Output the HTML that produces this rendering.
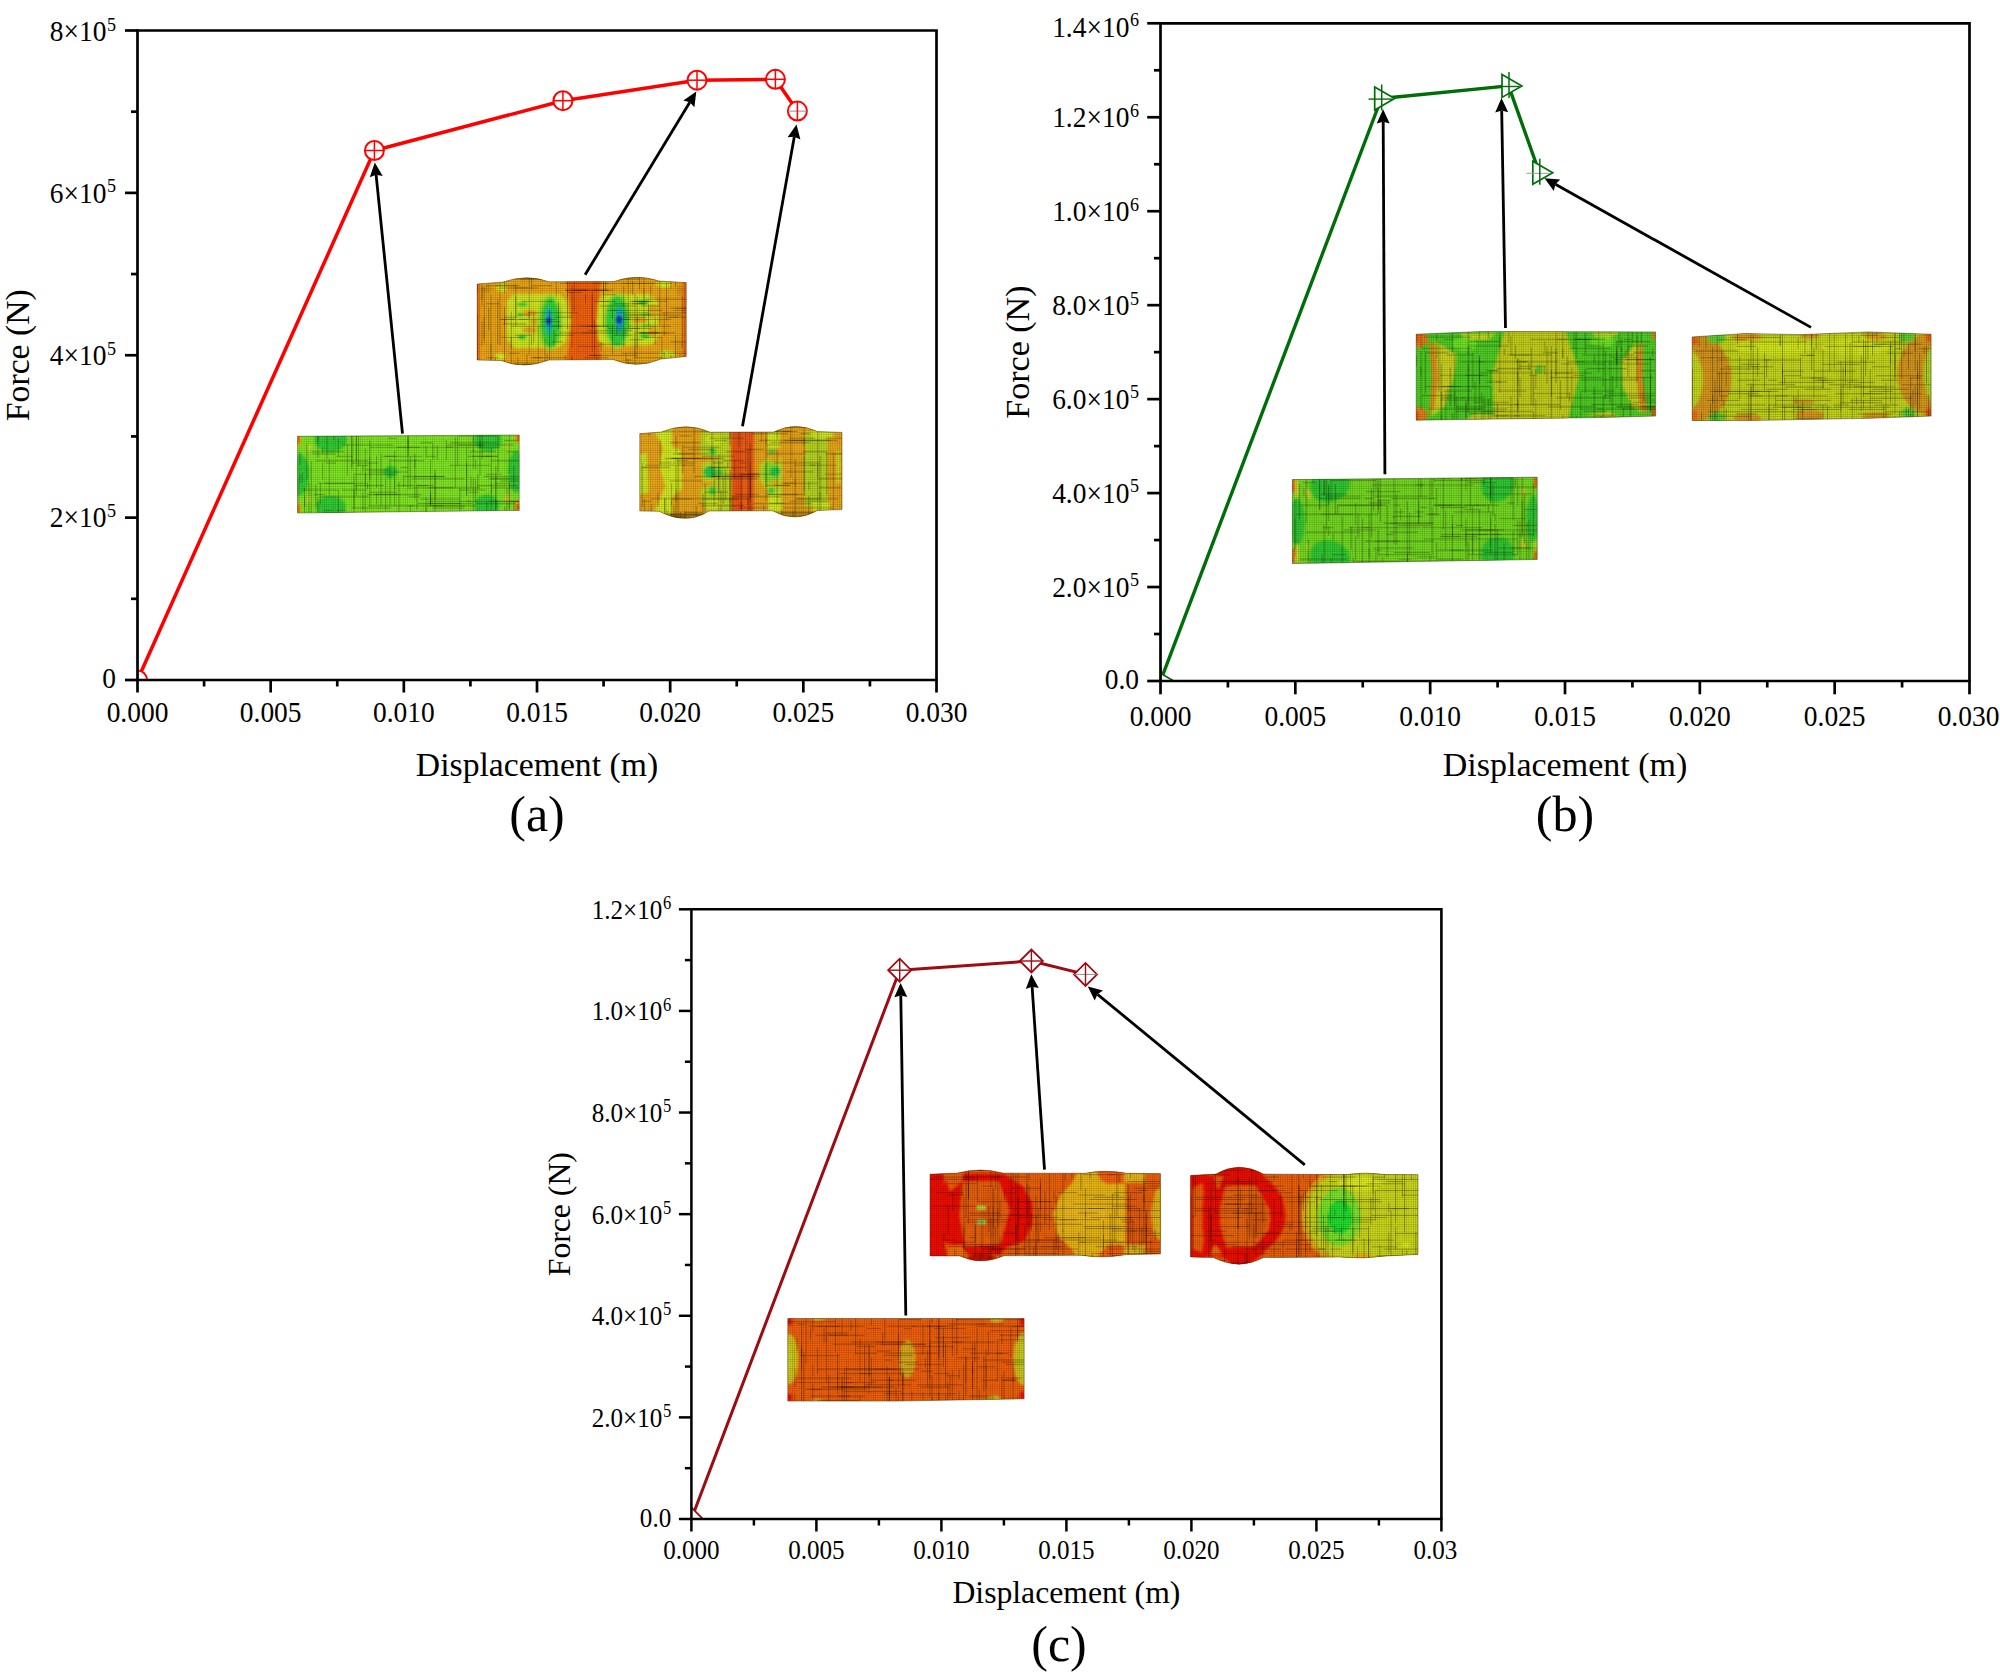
<!DOCTYPE html>
<html lang="en"><head><meta charset="utf-8"><title>Force-displacement curves</title>
<style>
html,body{margin:0;padding:0;background:#fff;}
body{width:2000px;height:1678px;overflow:hidden;}
svg{display:block;}
svg text{font-family:"Liberation Serif", "Times New Roman", serif;fill:#000;}
</style></head><body>
<svg width="2000" height="1678" viewBox="0 0 2000 1678">
<defs>
<clipPath id="ca"><rect x="137.5" y="30.5" width="799.0" height="649.5"/></clipPath>
<clipPath id="cb"><rect x="1160.5" y="23.3" width="809.0" height="657.7"/></clipPath>
<clipPath id="cc"><rect x="691.4" y="909.3" width="750.0000000000001" height="609.7"/></clipPath>
<pattern id="mesh" width="2.25" height="2.25" patternUnits="userSpaceOnUse"><path d="M0 0.3H2.25M0.3 0V2.25" stroke="#000" stroke-width="0.5" fill="none"/></pattern>
<clipPath id="fc1"><path d="M 297.6 436.3 L 519.2 435.0 L 519.2 510.4 L 297.6 513.0 Z"/></clipPath>
<filter id="fb1" x="-5%" y="-10%" width="110%" height="120%"><feGaussianBlur stdDeviation="0.8"/></filter>
<clipPath id="fc2"><path d="M 477.2 284.0 L 503.0 282.0 Q 527.0 273.6 549.0 281.8 L 614.0 281.5 Q 637.0 273.4 659.0 281.0 L 686.2 282.6 L 686.2 356.5 L 661.0 359.0 Q 637.0 369.4 613.0 359.5 L 549.0 360.0 Q 524.0 369.8 501.0 360.5 L 477.2 360.0 Z"/></clipPath>
<filter id="fb2" x="-5%" y="-10%" width="110%" height="120%"><feGaussianBlur stdDeviation="1.0"/></filter>
<clipPath id="fc3"><path d="M 639.8 433.6 L 661.4 432.0 Q 686.4 421.6 710.2 432.2 L 773.8 432.0 Q 795.1 421.4 817.6 431.6 L 842.0 432.4 L 842.0 509.6 L 817.6 510.4 Q 795.0 523.4 772.6 510.8 L 709.0 511.0 Q 686.4 525.6 659.0 511.2 L 639.8 511.0 Z"/></clipPath>
<filter id="fb3" x="-5%" y="-10%" width="110%" height="120%"><feGaussianBlur stdDeviation="1.0"/></filter>
<clipPath id="fc4"><path d="M 1292.4 479.6 L 1537.2 477.2 L 1537.2 559.5 L 1292.4 563.6 Z"/></clipPath>
<filter id="fb4" x="-5%" y="-10%" width="110%" height="120%"><feGaussianBlur stdDeviation="0.8"/></filter>
<clipPath id="fc5"><path d="M 1416.2 334.2 L 1481.0 331.5 L 1655.6 331.9 L 1655.6 416.1 L 1602.5 417.5 L 1416.2 420.2 Z"/></clipPath>
<filter id="fb5" x="-5%" y="-10%" width="110%" height="120%"><feGaussianBlur stdDeviation="1.0"/></filter>
<clipPath id="fc6"><path d="M 1692.2 336.9 L 1744.8 333.5 L 1801.5 334.6 L 1869.0 331.9 L 1931.1 334.2 L 1931.1 416.1 L 1869.0 418.3 L 1747.5 420.6 L 1692.2 420.6 Z"/></clipPath>
<filter id="fb6" x="-5%" y="-10%" width="110%" height="120%"><feGaussianBlur stdDeviation="1.0"/></filter>
<clipPath id="fc7"><path d="M 787.8 1318.5 L 1024.1 1318.5 L 1024.1 1398.8 L 896.5 1401.1 L 787.8 1401.1 Z"/></clipPath>
<filter id="fb7" x="-5%" y="-10%" width="110%" height="120%"><feGaussianBlur stdDeviation="0.8"/></filter>
<clipPath id="fc8"><path d="M 930.0 1174.2 L 957.5 1173.1 Q 980.0 1166.9 1003.0 1173.1 L 1085.0 1173.3 Q 1104.4 1169.3 1127.0 1173.3 L 1160.5 1173.6 L 1160.5 1253.9 L 1127.0 1254.6 Q 1102.0 1258.8 1081.0 1255.2 L 1004.0 1255.7 Q 981.3 1265.9 960.0 1255.9 L 930.0 1255.9 Z"/></clipPath>
<filter id="fb8" x="-5%" y="-10%" width="110%" height="120%"><feGaussianBlur stdDeviation="0.9"/></filter>
<clipPath id="fc9"><path d="M 1190.6 1175.4 L 1215.8 1174.1 Q 1238.7 1160.3 1263.6 1174.1 L 1345.0 1174.6 Q 1365.5 1171.6 1386.0 1174.6 L 1418.0 1174.7 L 1418.0 1254.4 L 1386.0 1256.0 Q 1362.0 1259.2 1340.0 1257.0 L 1263.6 1257.6 Q 1239.4 1270.8 1213.2 1257.6 L 1190.6 1257.0 Z"/></clipPath>
<filter id="fb9" x="-5%" y="-10%" width="110%" height="120%"><feGaussianBlur stdDeviation="1.0"/></filter>
</defs>
<rect width="2000" height="1678" fill="#fff"/>
<g clip-path="url(#fc1)">
<rect x="295.6" y="429.0" width="225.7" height="90.0" fill="#82ea24"/>
<g filter="url(#fb1)">
<ellipse cx="330.7" cy="439.5" rx="16.3" ry="12.4" fill="#36d034"/>
<ellipse cx="330.7" cy="507.1" rx="15.0" ry="11.1" fill="#36d034"/>
<ellipse cx="299.5" cy="474.6" rx="9.8" ry="20.8" fill="#36d034"/>
<ellipse cx="488.0" cy="439.5" rx="13.7" ry="11.7" fill="#36d034"/>
<ellipse cx="486.7" cy="505.8" rx="12.4" ry="11.1" fill="#36d034"/>
<ellipse cx="516.0" cy="472.0" rx="7.8" ry="20.8" fill="#36d034"/>
<ellipse cx="390.5" cy="472.0" rx="7.2" ry="5.9" fill="#36d034"/>
<rect x="295.6" y="434.3" width="5.5" height="11.7" fill="#e8c018"/>
<rect x="295.6" y="501.9" width="5.5" height="11.7" fill="#e8c018"/>
<rect x="514.7" y="433.0" width="5.2" height="10.4" fill="#e8c018"/>
<rect x="514.7" y="501.3" width="5.2" height="10.4" fill="#f0a010"/>
<ellipse cx="309.3" cy="448.0" rx="2.3" ry="3.9" fill="#c8e030"/>
<ellipse cx="309.3" cy="499.3" rx="2.3" ry="3.9" fill="#c8e030"/>
<ellipse cx="507.5" cy="446.0" rx="2.3" ry="3.9" fill="#b0e030"/>
<ellipse cx="507.5" cy="498.0" rx="2.9" ry="4.6" fill="#d8e030"/>
<rect x="296.3" y="435.0" width="2.9" height="7.8" fill="#f04010"/>
<rect x="296.3" y="505.8" width="2.9" height="7.2" fill="#f04010"/>
<rect x="516.9" y="434.3" width="2.9" height="6.5" fill="#f04010"/>
<rect x="516.9" y="504.5" width="2.9" height="5.9" fill="#f04010"/>
</g>
<rect x="295.6" y="429.0" width="225.7" height="90.0" fill="url(#mesh)" opacity="0.3"/>
<path d="M426.1 496.9V519.0M430.6 459.6V506.7M351.9 435.6V466.1M477.9 474.2V489.1M426.1 446.3V456.6M495.9 476.1V510.6M410.4 505.8V519.0M473.4 477.5V513.4M448.6 424.6V432.3M365.4 472.9V516.3M390.1 458.6V505.0M446.4 440.0V460.1M297.9 478.6V506.5M376.6 455.6V488.0M320.4 482.7V503.8M363.1 465.1V472.5M459.9 487.9V513.1M381.1 453.7V505.7M493.6 419.0V435.1M311.4 461.3V514.3M410.4 456.7V489.9M354.1 489.0V508.0M322.6 447.0V453.7M414.9 487.2V498.8M367.6 482.6V489.1M430.6 490.7V505.2M457.6 435.9V466.3M507.1 488.2V514.3M408.1 429.4V455.6M358.6 419.0V466.5M466.6 446.3V494.8M356.4 435.8V489.6M471.1 476.7V487.5M338.4 438.1V456.5M473.4 448.6V468.8M318.1 425.6V441.7M480.1 440.8V475.7M403.6 474.9V487.1M466.6 462.5V496.1M408.1 435.4V448.8M363.1 492.6V510.5M351.9 433.2V469.4M455.4 436.6V488.3M435.1 473.3V499.5M327.1 428.8V459.4M369.9 440.4V480.2M369.9 456.8V506.3M437.4 445.4V459.8M504.9 506.9V519.0M435.1 469.3V516.2M473.4 425.6V441.8M356.4 486.4V495.7M414.9 459.1V468.0M347.4 444.3V475.8M333.9 427.2V439.9M426.1 507.2V519.0M495.9 465.9V517.4M466.6 422.1V429.0M399.1 482.0V519.0M302.4 472.8V482.4M315.9 484.7V506.0M318.1 425.7V457.9M509.4 423.0V473.9M509.4 482.3V519.0M394.6 450.6V489.5M318.1 497.4V519.0M304.6 496.7V519.0M475.6 478.6V502.8M300.1 473.8V483.6M480.1 429.4V447.7M417.1 484.5V509.1M509.4 481.4V509.4M430.6 494.4V504.4M513.9 465.3V486.2M322.6 462.2V479.3M498.1 429.1V472.5M486.9 501.8V519.0M300.1 452.1V464.9M473.4 437.2V451.3M394.6 478.4V505.6M365.4 448.4V486.3M354.1 476.0V519.0M513.9 501.2V519.0M408.1 438.7V488.9M356.4 431.2V461.0M309.1 483.0V519.0M376.6 492.9V504.3M432.9 443.7V460.0M414.9 453.4V484.3M491.4 447.3V493.6M475.6 459.7V469.3M306.9 444.0V479.1M491.4 482.7V516.1M385.6 477.4V510.5M482.4 431.2V459.0M304.6 488.2V507.0M338.4 490.7V519.0M329.4 459.1V495.4M500.4 481.0H519.2M471.9 456.3H490.6M457.4 429.3H489.8M335.5 433.8H354.9M411.8 478.8H464.6M427.6 501.3H471.0M477.2 485.5H517.8M316.0 460.8H368.1M325.0 483.3H353.5M377.3 429.3H411.4M466.2 501.3H518.9M366.7 494.5H421.2M450.4 442.8H496.8M342.7 445.0H393.2M504.4 440.5H519.2M353.0 474.3H394.5M371.3 431.5H381.4M369.9 492.3H396.8M400.7 467.5H408.1M388.3 438.3H396.1M368.5 505.8H413.4M397.1 447.3H452.6M475.3 503.5H515.4M420.1 499.0H460.1M390.6 460.8H424.2M432.8 508.0H464.6M351.8 508.0H391.0M341.6 517.0H389.7M408.5 505.8H442.8M384.6 456.3H396.2M425.7 429.3H433.0M406.8 433.8H432.6M323.4 510.3H334.0M311.5 451.8H344.1M492.4 487.8H519.2M354.5 485.5H383.9M369.4 447.3H420.0M408.7 496.8H420.0M428.3 487.8H480.1M446.2 447.3H500.4M338.6 433.8H355.9M365.7 469.8H389.3M403.1 517.0H433.8M323.5 512.5H354.8M449.5 465.3H490.1M302.5 490.0H339.8M427.9 503.5H460.5M432.7 505.8H464.9M427.0 505.8H475.4M491.2 460.8H519.2M488.6 478.8H510.2M486.1 474.3H501.7M485.4 456.3H498.0M325.6 463.0H336.0M318.1 483.3H365.2M412.5 487.8H453.4M382.8 456.3H422.7M317.9 431.5H352.0M490.5 478.8H519.2M446.7 445.0H484.1M404.0 476.5H443.9M467.5 456.3H497.3M305.5 431.5H338.7M489.1 501.3H518.9M336.6 456.3H352.7M507.2 451.8H519.2M420.3 442.8H432.9M314.0 494.5H324.8M396.4 485.5H427.8M342.0 490.0H366.5M476.2 433.8H491.2M373.7 494.5H397.9M425.6 456.3H436.3M366.1 429.3H376.3M418.1 485.5H433.6M505.5 512.5H519.2M356.7 465.3H368.5M470.0 451.8H496.0M483.8 476.5H519.2M459.5 490.0H485.6M312.5 454.0H335.4M318.9 496.8H368.8M308.0 517.0H327.5M369.1 472.0H407.7M336.1 510.3H345.9M509.2 501.3H519.2M458.8 445.0H513.2M321.8 431.5H333.2M351.9 463.0H377.7M458.7 436.0H496.7M318.4 429.3H336.8M414.0 476.5H445.1M417.8 503.5H472.9M468.9 492.3H478.7M439.0 514.8H492.2M494.4 483.3H508.3" stroke="#000" stroke-width="0.7" opacity="0.38" fill="none"/>
</g>
<path d="M 297.6 436.3 L 519.2 435.0 L 519.2 510.4 L 297.6 513.0 Z" fill="none" stroke="#1a1a00" stroke-width="0.8" opacity="0.5"/>
<g clip-path="url(#fc2)">
<rect x="475.2" y="267.4" width="213.0" height="108.4" fill="#f0aa18"/>
<g filter="url(#fb2)">
<polygon points="507.0,301.0 513.0,294.0 560.0,294.0 566.0,300.0 570.0,322.0 565.0,343.0 558.0,348.0 514.0,348.0 507.0,340.0" fill="#d6ec20"/>
<polygon points="599.0,300.0 604.0,294.0 650.0,294.0 658.0,302.0 659.0,336.0 652.0,345.0 606.0,346.0 598.0,340.0 595.0,321.0" fill="#d6ec20"/>
<polygon points="563.6,270.0 602.8,270.0 598.5,300.0 596.8,321.0 598.5,340.0 602.8,372.0 564.8,372.0 570.0,340.0 572.0,321.0 570.0,300.0" fill="#f8640f"/>
<ellipse cx="530.0" cy="313.2" rx="7.5" ry="3.0" fill="#f0a81c"/>
<ellipse cx="530.0" cy="330.0" rx="7.5" ry="3.0" fill="#f0a81c"/>
<ellipse cx="535.0" cy="321.6" rx="5.0" ry="3.0" fill="#eab01c"/>
<ellipse cx="640.0" cy="320.4" rx="8.0" ry="2.6" fill="#f0a81c"/>
<ellipse cx="653.0" cy="311.0" rx="5.0" ry="7.0" fill="#e8b01c"/>
<ellipse cx="653.0" cy="331.0" rx="5.0" ry="6.0" fill="#e8b01c"/>
<ellipse cx="522.2" cy="304.2" rx="5.4" ry="2.0" fill="#34d63a"/>
<ellipse cx="519.8" cy="314.4" rx="3.0" ry="2.4" fill="#60e030"/>
<ellipse cx="522.2" cy="337.2" rx="4.4" ry="2.4" fill="#34d63a"/>
<ellipse cx="643.0" cy="302.4" rx="5.4" ry="2.4" fill="#34d63a"/>
<ellipse cx="646.0" cy="314.4" rx="5.0" ry="1.5" fill="#70e030"/>
<ellipse cx="647.0" cy="325.8" rx="5.0" ry="1.5" fill="#70e030"/>
<ellipse cx="644.8" cy="336.0" rx="5.0" ry="2.4" fill="#34d63a"/>
<ellipse cx="550.0" cy="322.5" rx="13.0" ry="28.0" fill="#a4e42a"/>
<ellipse cx="617.5" cy="321.0" rx="14.0" ry="28.0" fill="#a4e42a"/>
<ellipse cx="550.4" cy="322.8" rx="9.6" ry="24.5" fill="#34d63a"/>
<ellipse cx="617.2" cy="321.0" rx="11.0" ry="24.5" fill="#34d63a"/>
<ellipse cx="548.8" cy="321.0" rx="3.3" ry="13.8" fill="#18b8c8"/>
<ellipse cx="619.6" cy="319.4" rx="3.8" ry="13.2" fill="#18b8c8"/>
<ellipse cx="548.6" cy="321.0" rx="2.7" ry="3.7" fill="#1838b8"/>
<ellipse cx="619.0" cy="319.8" rx="3.4" ry="4.2" fill="#1838b8"/>
<ellipse cx="501.8" cy="288.0" rx="5.5" ry="3.8" fill="#dcf020"/>
<ellipse cx="500.0" cy="356.6" rx="5.5" ry="3.2" fill="#dcf020"/>
<ellipse cx="664.0" cy="284.6" rx="8.0" ry="3.2" fill="#dcf020"/>
<ellipse cx="667.0" cy="354.0" rx="8.0" ry="3.8" fill="#cfe820"/>
<ellipse cx="487.0" cy="289.0" rx="5.0" ry="4.0" fill="#d89818"/>
<ellipse cx="680.0" cy="290.0" rx="3.0" ry="6.0" fill="#d89818"/>
<ellipse cx="680.0" cy="345.0" rx="3.0" ry="8.0" fill="#e0a018"/>
<rect x="475.0" y="280.0" width="4.4" height="84.0" fill="#f86010"/>
<rect x="682.6" y="280.0" width="5.0" height="80.0" fill="#f06812"/>
<ellipse cx="527.0" cy="276.5" rx="19.0" ry="2.2" fill="#c89014"/>
<ellipse cx="637.0" cy="276.3" rx="19.0" ry="2.2" fill="#c89014"/>
<ellipse cx="524.0" cy="366.0" rx="21.0" ry="3.2" fill="#b88412"/>
<ellipse cx="637.0" cy="365.6" rx="21.0" ry="3.2" fill="#b88412"/>
</g>
<rect x="475.2" y="267.4" width="213.0" height="108.4" fill="url(#mesh)" opacity="0.3"/>
<path d="M515.8 283.7V325.9M605.8 277.4V290.5M664.2 352.6V375.8M500.0 282.5V345.2M567.5 363.2V375.8M635.0 331.7V375.8M680.0 353.2V375.8M482.0 321.3V345.7M531.5 277.0V289.6M628.2 359.1V375.8M639.5 264.0V289.3M572.0 285.4V347.9M565.2 355.0V375.8M664.2 313.3V335.8M554.0 329.8V346.7M491.0 294.5V353.7M596.8 357.7V375.8M626.0 353.0V375.8M529.2 290.7V318.8M644.0 260.1V300.1M637.2 316.3V347.9M671.0 354.9V375.8M502.2 365.4V375.8M601.2 342.1V351.5M533.8 312.9V342.6M504.5 307.2V324.6M484.2 316.7V343.3M572.0 356.0V375.8M603.5 261.4V299.0M662.0 337.5V375.8M504.5 263.0V293.3M518.0 357.2V375.8M511.2 311.4V348.4M644.0 288.2V334.6M612.5 309.0V318.9M682.2 295.7V348.0M650.8 285.5V298.5M529.2 311.6V355.1M574.2 267.9V311.1M648.5 304.5V326.4M488.8 265.7V282.9M671.0 270.2V289.0M549.5 310.2V320.2M482.0 287.4V299.1M612.5 324.4V354.2M511.2 337.1V375.8M529.2 261.5V289.9M655.2 261.0V279.0M617.0 326.2V335.1M675.5 335.2V368.7M547.2 353.8V366.4M495.5 358.3V375.8M527.0 353.8V375.8M493.2 260.6V276.0M556.2 262.0V296.7M484.2 287.4V338.8M538.2 325.9V375.8M666.5 282.7V320.3M515.8 295.9V317.2M675.5 258.4V286.8M659.8 269.0V325.0M655.2 317.2V344.5M623.8 285.9V307.2M628.2 274.6V330.2M623.8 311.1V346.7M515.8 363.0V375.8M592.2 294.6V352.3M497.8 299.3V344.0M531.5 334.0V345.1M585.5 294.1V303.3M628.2 362.5V375.8M637.2 296.6V358.9M477.5 314.5V365.9M482.0 269.7V305.6M491.0 344.8V375.8M504.5 319.2V375.8M549.5 312.1V373.5M594.5 319.7V356.8M635.0 293.4V356.7M491.0 355.1V375.8M664.2 360.7V375.8M477.5 283.3V292.6M567.5 289.7V297.2M567.5 269.6V329.2M572.0 357.0V372.4M558.5 302.4V329.3M592.2 290.7V328.6M655.2 361.4V375.8M488.8 307.7V330.3M632.8 281.0V294.6M545.0 338.9V375.8M603.5 262.7V327.4M499.8 287.9H528.0M577.6 290.2H586.8M518.2 314.9H530.3M593.2 362.2H620.4M584.4 357.7H608.6M638.0 332.9H675.0M518.7 319.4H556.5M500.2 278.9H545.2M520.4 278.9H548.3M530.4 357.7H542.2M593.7 290.2H613.7M593.9 301.4H609.1M624.1 314.9H650.9M512.0 368.9H536.8M587.9 330.7H632.0M631.9 303.7H647.6M522.1 301.4H552.6M535.1 364.4H543.3M598.8 301.4H615.9M636.0 332.9H659.2M592.7 283.4H609.3M551.7 326.2H602.3M486.3 285.7H520.3M606.8 310.4H617.8M578.5 364.4H626.9M503.1 323.9H526.3M624.8 359.9H631.4M565.0 290.2H608.4M573.4 290.2H587.0M509.1 353.2H519.8M501.3 319.4H515.1M493.9 368.9H523.1M613.7 303.7H644.6M616.0 312.7H648.7M645.8 299.2H686.2M487.2 357.7H498.9M479.2 276.7H509.7M601.8 326.2H623.3M629.8 328.4H640.1M529.7 326.2H562.0M588.7 355.4H601.5M661.5 312.7H686.2M614.5 269.9H645.4M565.4 290.2H609.1M567.1 267.7H590.9M548.9 276.7H556.2M554.6 335.2H573.9M589.1 355.4H636.8M676.1 308.2H686.2M639.7 332.9H660.3M567.7 292.4H581.4M674.7 269.9H686.2M628.0 326.2H670.7M533.0 357.7H567.1M623.0 317.2H646.0M588.2 278.9H639.3M514.7 287.9H538.8M638.5 276.7H680.3M623.9 319.4H630.4M581.8 332.9H628.7M514.9 335.2H530.7M539.0 371.2H584.7M500.7 337.4H522.9M604.2 283.4H654.4M511.1 326.2H529.1M632.7 301.4H667.1M562.7 364.4H604.1M504.3 317.2H516.5M670.3 308.2H686.2M547.8 364.4H586.5M599.6 305.9H636.6M555.3 364.4H603.4M603.6 294.7H615.7M527.6 312.7H578.0M522.5 364.4H530.8M643.3 337.4H662.8M560.4 283.4H602.0M624.8 267.7H631.7M633.7 357.7H662.2M559.3 332.9H596.6M629.5 339.7H643.5M486.1 303.7H499.4M627.7 274.4H654.1M577.9 346.4H600.8M531.8 285.7H552.6M486.3 366.7H495.2M482.1 364.4H502.2M552.3 341.9H563.1M579.8 326.2H609.0M499.5 319.4H528.5M554.9 317.2H572.4M496.0 285.7H515.6M621.7 353.2H665.7M542.0 321.7H560.3M621.0 319.4H671.4M629.7 314.9H681.0M641.3 305.9H660.2M669.5 317.2H686.2M586.6 326.2H600.6M496.7 373.4H510.0M632.6 301.4H649.4M607.5 328.4H651.3M639.8 332.9H668.3M670.6 341.9H686.2M667.3 317.2H678.6M613.5 310.4H662.8M598.5 344.2H624.8M673.5 310.4H686.2M667.9 353.2H686.2M629.2 301.4H652.5M622.0 283.4H672.2M652.5 368.9H663.5M621.8 269.9H643.8M648.0 371.2H686.2M613.3 335.2H632.3" stroke="#000" stroke-width="0.7" opacity="0.38" fill="none"/>
</g>
<path d="M 477.2 284.0 L 503.0 282.0 Q 527.0 273.6 549.0 281.8 L 614.0 281.5 Q 637.0 273.4 659.0 281.0 L 686.2 282.6 L 686.2 356.5 L 661.0 359.0 Q 637.0 369.4 613.0 359.5 L 549.0 360.0 Q 524.0 369.8 501.0 360.5 L 477.2 360.0 Z" fill="none" stroke="#1a1a00" stroke-width="0.8" opacity="0.5"/>
<g clip-path="url(#fc3)">
<rect x="637.8" y="415.4" width="206.2" height="116.2" fill="#eca81a"/>
<g filter="url(#fb3)">
<polygon points="652.6,428.0 672.0,428.0 672.0,447.0 680.8,450.0 682.0,489.0 672.0,497.0 672.0,516.0 652.6,516.0 665.2,486.0 659.0,464.0 663.3,448.0" fill="#d8ee20"/>
<polygon points="639.0,455.0 647.0,452.0 649.0,492.0 639.0,495.0" fill="#cfe820"/>
<ellipse cx="654.0" cy="456.0" rx="5.0" ry="7.0" fill="#eea41a"/>
<ellipse cx="656.0" cy="492.0" rx="5.0" ry="7.0" fill="#eea41a"/>
<polygon points="701.0,432.0 729.0,432.0 731.0,511.0 705.0,511.0 700.8,495.0 702.0,471.0 700.0,450.0" fill="#bfdc24"/>
<polygon points="694.6,455.0 722.0,459.0 694.6,464.0" fill="#eca81a"/>
<polygon points="694.6,480.0 720.0,483.0 694.6,489.0" fill="#eca81a"/>
<ellipse cx="710.0" cy="472.0" rx="6.5" ry="5.6" fill="#22d04c"/>
<ellipse cx="719.6" cy="472.0" rx="4.0" ry="3.0" fill="#4cd83c"/>
<ellipse cx="712.7" cy="451.5" rx="3.4" ry="4.0" fill="#40d440"/>
<ellipse cx="712.3" cy="490.7" rx="3.4" ry="4.2" fill="#40d440"/>
<ellipse cx="714.0" cy="440.0" rx="9.0" ry="5.0" fill="#d4ea20"/>
<ellipse cx="714.0" cy="505.0" rx="9.0" ry="5.0" fill="#d4ea20"/>
<rect x="731.5" y="425.0" width="22.3" height="95.0" fill="#ee5416"/>
<rect x="743.0" y="425.0" width="5.0" height="95.0" fill="#f86414"/>
<polygon points="760.0,465.0 768.0,458.0 782.0,458.0 782.0,511.0 768.0,511.0 768.0,492.0 760.0,480.0" fill="#c4e024"/>
<polygon points="767.5,432.0 780.0,432.0 780.0,448.0 767.5,448.0" fill="#d8ee20"/>
<polygon points="768.7,492.0 780.0,492.0 780.0,511.0 768.7,511.0" fill="#d8ee20"/>
<ellipse cx="771.0" cy="472.0" rx="9.0" ry="12.0" fill="#8ce02c"/>
<ellipse cx="775.0" cy="471.3" rx="5.6" ry="4.4" fill="#22d04c"/>
<ellipse cx="771.9" cy="451.3" rx="3.2" ry="2.3" fill="#30dc48"/>
<ellipse cx="771.3" cy="490.7" rx="3.2" ry="3.2" fill="#40d440"/>
<ellipse cx="775.0" cy="460.5" rx="6.0" ry="2.2" fill="#eeb01c"/>
<ellipse cx="775.0" cy="483.0" rx="6.0" ry="2.2" fill="#eeb01c"/>
<polygon points="805.0,432.5 827.6,432.5 827.6,507.6 805.0,507.6 803.0,470.0" fill="#b9d822"/>
<polygon points="811.0,431.0 833.0,431.0 833.0,438.0 811.0,438.0" fill="#d4ea20"/>
<polygon points="812.6,503.0 830.0,503.0 830.0,511.0 812.6,511.0" fill="#d4ea20"/>
<polygon points="792.6,446.0 806.0,446.0 806.0,453.0 792.6,453.0" fill="#f4ac1c"/>
<rect x="836.4" y="451.0" width="3.6" height="32.0" fill="#cfe820"/>
<ellipse cx="686.4" cy="425.6" rx="20.0" ry="2.2" fill="#c48c14"/>
<ellipse cx="795.1" cy="425.4" rx="20.0" ry="2.2" fill="#c48c14"/>
<ellipse cx="686.0" cy="517.0" rx="24.0" ry="5.2" fill="#c08a14"/>
<ellipse cx="795.0" cy="515.4" rx="23.0" ry="5.0" fill="#c08a14"/>
</g>
<rect x="637.8" y="415.4" width="206.2" height="116.2" fill="url(#mesh)" opacity="0.3"/>
<path d="M804.3 424.8V445.7M718.8 461.1V523.1M793.1 511.0V528.9M826.8 510.6V531.6M732.3 517.7V531.6M766.1 438.2V487.1M660.3 440.4V466.1M781.8 509.8V531.6M833.6 454.9V514.9M730.1 470.0V519.4M673.8 505.9V531.6M721.1 521.0V531.6M658.1 492.5V506.4M732.3 494.8V531.6M730.1 406.1V445.6M725.6 469.9V500.7M835.8 418.2V426.3M820.1 492.2V531.6M673.8 412.8V424.7M730.1 405.8V437.9M739.1 429.0V447.3M826.8 450.5V494.6M741.3 473.9V508.9M727.8 461.9V468.5M748.1 449.5V505.2M671.6 483.0V504.5M795.3 479.2V531.2M685.1 511.1V531.6M777.3 409.3V420.9M813.3 513.5V531.6M718.8 454.4V492.7M714.3 460.3V506.0M777.3 450.5V504.8M730.1 498.7V525.4M669.3 516.7V531.6M730.1 477.7V501.9M817.8 425.4V477.6M741.3 502.0V531.6M734.6 512.9V531.6M808.8 481.7V490.0M820.1 509.6V516.4M777.3 416.1V439.3M806.6 414.5V428.0M694.1 428.5V473.3M658.1 513.0V531.6M804.3 455.9V495.6M745.8 406.2V472.0M757.1 408.1V419.8M678.3 458.5V514.2M808.8 496.1V531.6M705.3 483.9V511.2M664.8 498.3V531.6M727.8 517.9V531.6M644.6 499.0V531.6M723.3 477.3V504.1M676.1 488.9V501.2M750.3 463.0V497.7M696.3 506.2V531.6M676.1 435.4V452.5M790.8 420.5V477.5M795.3 459.3V485.9M707.6 406.2V413.7M682.8 444.6V473.6M712.1 433.0V478.1M642.3 463.0V507.2M804.3 438.2V490.4M703.1 494.0V518.2M752.6 519.1V531.6M671.6 500.8V518.8M750.3 443.9V501.5M651.3 504.4V531.6M676.1 465.4V521.7M750.3 477.0V530.9M817.8 463.3V518.9M763.8 505.0V531.6M721.1 490.3V531.6M820.1 455.9V499.4M748.1 498.5V531.6M754.8 517.5V531.6M766.1 423.8V443.7M649.1 417.4V435.3M734.6 460.8V478.0M761.6 420.7V441.8M678.3 515.4V531.6M680.6 512.0V531.6M664.8 497.7V529.1M667.1 509.9V531.6M748.1 405.8V418.0M766.1 462.8V501.0M674.4 458.4H724.1M694.2 476.4H720.6M685.2 512.4H702.5M672.3 458.4H699.8M818.3 415.7H842.0M677.2 519.2H703.3M688.2 449.4H713.6M819.2 487.7H840.8M677.7 431.4H702.9M745.0 449.4H763.5M783.6 507.9H832.8M702.9 498.9H737.9M645.3 465.2H685.1M791.4 440.4H837.5M803.1 417.9H821.9M739.4 474.2H759.6M723.0 429.2H751.8M793.8 465.2H815.5M754.3 422.4H784.0M781.7 483.2H817.6M726.1 451.7H745.6M722.8 460.7H743.6M714.3 440.4H726.8M665.1 458.4H678.9M707.3 467.4H746.7M702.3 456.2H734.6M670.2 458.4H718.4M742.7 474.2H774.7M675.0 460.7H687.7M766.1 485.4H790.4M825.3 438.2H842.0M671.5 498.9H701.2M770.0 442.7H797.8M642.1 431.4H676.2M670.2 442.7H700.7M825.3 453.9H842.0M778.8 523.7H792.4M673.2 453.9H708.8M661.4 426.9H670.4M815.3 417.9H842.0M768.0 494.4H798.1M764.4 431.4H797.6M643.4 516.9H685.6M753.7 503.4H784.5M712.9 476.4H754.6M643.7 467.4H669.8M812.2 426.9H842.0M669.4 514.7H707.8M701.4 505.7H744.4M680.2 521.4H720.0M679.4 435.9H691.6M701.7 431.4H748.8M687.4 528.2H728.6M659.2 420.2H675.3M785.5 471.9H813.5M753.2 514.7H770.8M739.9 462.9H746.0M796.7 442.7H809.5M677.6 453.9H694.5M764.9 431.4H789.2M744.6 528.2H753.4M766.6 494.4H804.5M722.2 417.9H745.7M803.0 451.7H825.8M682.6 465.2H693.7M712.8 462.9H723.3M815.3 514.7H842.0M778.3 417.9H822.3M732.7 496.7H780.8M716.2 478.7H757.1M774.7 485.4H789.5M789.3 501.2H827.5M712.9 476.4H750.2M817.5 422.4H842.0M705.2 492.2H728.0M697.9 503.4H717.7M711.1 467.4H726.3M784.6 440.4H830.9M650.8 498.9H692.3M682.8 447.2H719.3M785.1 426.9H815.3M739.0 507.9H767.7M766.6 453.9H806.2M796.7 498.9H838.0M797.5 417.9H832.3M795.3 498.9H819.2M759.0 440.4H804.6M641.0 467.4H647.3M818.2 478.7H842.0M800.6 433.7H809.6M766.7 444.9H780.6M701.1 498.9H749.9M785.0 417.9H832.0M774.5 462.9H820.1M831.7 453.9H842.0M665.3 516.9H690.4M670.7 514.7H711.1M643.9 521.4H681.3M821.3 525.9H842.0M809.5 465.2H836.8M679.1 417.9H724.2M782.8 431.4H792.4M783.6 483.2H793.9M673.1 462.9H693.8M669.6 480.9H702.3M819.2 512.4H825.3M769.1 503.4H811.3M741.2 519.2H787.2M819.4 512.4H832.9M696.3 424.7H725.0M789.2 438.2H814.9M824.7 474.2H842.0M735.2 494.4H758.9M781.5 512.4H820.2M751.3 433.7H787.9M711.2 476.4H760.0M814.8 514.7H829.6M709.4 438.2H744.5M828.7 417.9H842.0M642.0 501.2H651.9M658.8 462.9H671.6M712.1 474.2H758.9" stroke="#000" stroke-width="0.7" opacity="0.38" fill="none"/>
</g>
<path d="M 639.8 433.6 L 661.4 432.0 Q 686.4 421.6 710.2 432.2 L 773.8 432.0 Q 795.1 421.4 817.6 431.6 L 842.0 432.4 L 842.0 509.6 L 817.6 510.4 Q 795.0 523.4 772.6 510.8 L 709.0 511.0 Q 686.4 525.6 659.0 511.2 L 639.8 511.0 Z" fill="none" stroke="#1a1a00" stroke-width="0.8" opacity="0.5"/>
<g clip-path="url(#fc4)">
<rect x="1290.4" y="471.2" width="248.8" height="98.4" fill="#76dc22"/>
<g filter="url(#fb4)">
<ellipse cx="1330.0" cy="485.3" rx="20.3" ry="16.2" fill="#30cc30" transform="rotate(-18 1330.0 485.3)"/>
<ellipse cx="1330.0" cy="556.8" rx="20.3" ry="16.2" fill="#30cc30" transform="rotate(18 1330.0 556.8)"/>
<ellipse cx="1296.9" cy="521.7" rx="7.8" ry="23.0" fill="#30cc30"/>
<ellipse cx="1497.4" cy="483.9" rx="16.2" ry="18.2" fill="#30cc30" transform="rotate(20 1497.4 483.9)"/>
<ellipse cx="1497.4" cy="553.4" rx="16.9" ry="16.2" fill="#30cc30" transform="rotate(-18 1497.4 553.4)"/>
<ellipse cx="1533.1" cy="519.0" rx="7.0" ry="23.0" fill="#30cc30"/>
<rect x="1291.5" y="477.8" width="3.8" height="14.9" fill="#f06010"/>
<rect x="1291.5" y="548.7" width="3.8" height="14.9" fill="#f06010"/>
<rect x="1534.1" y="476.5" width="3.8" height="10.8" fill="#f06010"/>
<rect x="1534.1" y="550.1" width="3.8" height="9.5" fill="#f06010"/>
<rect x="1295.3" y="479.9" width="3.4" height="17.6" fill="#d8e030"/>
<rect x="1295.3" y="544.7" width="3.4" height="17.6" fill="#d8e030"/>
<ellipse cx="1308.4" cy="494.0" rx="1.9" ry="6.1" fill="#d8d030" transform="rotate(-20 1308.4 494.0)"/>
<ellipse cx="1307.7" cy="547.4" rx="1.4" ry="4.1" fill="#c0d830"/>
<ellipse cx="1523.0" cy="492.0" rx="1.9" ry="5.4" fill="#c0d030"/>
<ellipse cx="1523.0" cy="544.7" rx="1.9" ry="5.4" fill="#d0d030"/>
<rect x="1534.5" y="540.6" width="2.0" height="10.8" fill="#d8e030"/>
</g>
<rect x="1290.4" y="471.2" width="248.8" height="98.4" fill="url(#mesh)" opacity="0.3"/>
<path d="M1409.7 512.3V555.5M1324.2 478.5V496.5M1299.5 483.3V519.4M1319.7 476.6V509.8M1378.2 529.4V555.5M1407.5 536.5V569.6M1394.0 468.4V519.0M1470.5 476.8V509.9M1461.5 470.5V527.3M1322.0 554.0V569.6M1376.0 464.6V491.1M1430.0 508.0V524.1M1328.7 486.6V505.7M1306.2 465.4V522.4M1488.5 504.1V512.1M1497.5 529.5V569.6M1524.5 493.5V543.5M1472.7 505.8V554.3M1335.5 484.1V514.3M1520.0 533.6V569.6M1468.2 541.8V569.6M1304.0 488.5V495.0M1295.0 518.2V556.3M1452.5 514.6V569.6M1394.0 516.6V544.1M1396.2 494.6V545.1M1466.0 531.7V569.6M1511.0 465.9V504.9M1326.5 475.2V530.7M1504.2 543.4V569.6M1376.0 551.8V561.1M1313.0 461.8V482.3M1490.7 512.7V554.7M1533.5 557.5V566.7M1430.0 555.7V569.6M1310.7 559.2V569.6M1517.7 520.2V555.1M1432.2 467.6V499.6M1407.5 500.8V535.8M1421.0 468.3V487.7M1328.7 525.8V535.8M1418.7 500.1V524.4M1418.7 469.4V523.3M1513.2 474.3V519.8M1436.7 542.4V561.3M1493.0 484.2V516.1M1436.7 487.9V515.8M1331.0 558.5V569.6M1328.7 484.0V521.6M1443.5 472.3V529.6M1434.5 475.5V481.7M1407.5 553.5V569.6M1522.2 500.8V537.3M1472.7 534.2V569.6M1421.0 482.8V497.1M1333.2 533.6V539.8M1380.5 462.5V505.5M1466.0 473.9V489.8M1297.2 468.7V479.8M1445.7 510.5V550.3M1380.5 500.8V521.7M1526.7 523.3V565.3M1490.7 467.7V502.4M1382.7 557.4V569.6M1373.7 462.8V511.0M1324.2 480.3V495.1M1342.2 516.5V568.0M1517.7 476.7V505.4M1369.2 548.5V569.6M1362.5 518.7V569.6M1378.2 487.1V514.5M1522.2 477.2V533.5M1430.0 478.7V508.6M1432.2 507.6V555.5M1490.7 518.0V547.6M1400.7 508.4V520.4M1490.7 488.6V504.8M1533.5 483.3V536.7M1515.5 478.3V486.5M1355.7 502.9V525.2M1369.2 514.2V557.4M1319.7 461.6V510.2M1378.2 463.1V510.1M1351.2 526.5V549.7M1495.2 523.8V569.6M1418.7 510.1V516.4M1461.5 465.8V480.8M1355.7 535.8V559.8M1484.0 462.1V486.5M1308.5 539.6V569.6M1490.7 468.3V494.7M1337.7 504.5V513.8M1358.0 513.4V538.4M1522.2 466.3V473.3M1513.2 531.3V555.3M1479.5 510.0V566.1M1387.2 505.3V557.2M1495.2 513.6V521.2M1295.0 499.6V549.5M1452.5 524.0V536.0M1520.0 520.6V538.2M1466.0 518.0V547.0M1490.7 466.4V498.1M1529.0 519.3V561.0M1353.5 557.9V569.6M1324.2 524.8V569.6M1331.0 481.6V501.1M1371.5 488.6V537.4M1373.1 548.0H1413.2M1455.8 525.5H1463.3M1391.4 498.5H1436.1M1386.4 534.5H1393.1M1338.6 505.2H1386.4M1392.6 516.5H1421.8M1498.5 518.7H1526.1M1441.3 536.7H1476.9M1378.5 554.7H1431.0M1471.4 539.0H1516.8M1317.5 566.0H1338.8M1464.2 505.2H1486.1M1417.1 557.0H1434.9M1436.8 471.5H1497.3M1365.0 541.2H1400.2M1368.9 503.0H1390.1M1418.4 473.7H1447.3M1423.6 539.0H1472.6M1434.7 505.2H1453.5M1497.8 548.0H1530.6M1425.9 514.2H1439.9M1363.2 527.7H1420.1M1437.3 550.2H1463.7M1379.9 476.0H1390.2M1475.0 476.0H1535.5M1374.2 550.2H1381.5M1421.7 527.7H1482.4M1374.7 541.2H1433.4M1502.7 471.5H1523.0M1508.9 563.7H1516.8M1420.6 507.5H1426.6M1512.8 525.5H1537.2M1336.1 471.5H1377.6M1439.8 536.7H1460.0M1364.6 498.5H1372.4M1374.8 496.2H1428.2M1393.9 512.0H1404.6M1296.1 514.2H1353.5M1319.6 498.5H1360.6M1397.6 525.5H1431.7M1337.4 505.2H1382.3M1383.7 523.2H1432.6M1365.9 491.7H1400.5M1415.1 512.0H1423.8M1432.3 505.2H1461.8M1454.6 473.7H1513.5M1372.5 485.0H1424.4M1398.8 559.2H1411.4M1320.8 514.2H1377.5M1326.8 478.2H1337.1M1303.1 482.7H1316.1M1440.2 507.5H1467.1M1460.0 478.2H1476.9M1299.7 559.2H1347.1M1393.5 505.2H1400.4M1320.9 494.0H1347.4M1511.4 548.0H1537.2M1377.3 500.7H1390.5M1311.5 563.7H1319.6M1348.9 527.7H1369.8M1389.9 523.2H1433.6M1465.4 534.5H1501.8M1469.0 473.7H1483.4M1332.1 554.7H1346.1M1463.4 509.7H1481.0M1450.0 550.2H1492.7M1485.0 566.0H1507.2M1478.9 530.0H1537.2M1322.4 527.7H1333.6M1490.7 534.5H1533.7M1506.8 503.0H1515.2M1467.3 482.7H1484.8M1434.7 480.5H1484.4M1354.5 473.7H1396.4M1495.5 563.7H1534.8M1373.2 563.7H1415.0M1523.7 509.7H1537.2M1453.5 512.0H1493.9M1329.6 480.5H1375.9M1353.6 561.5H1410.9M1482.7 482.7H1496.3M1415.5 485.0H1473.8M1384.4 476.0H1430.3M1438.2 505.2H1479.2M1306.0 505.2H1327.9M1468.4 554.7H1518.0M1475.6 505.2H1499.0M1465.8 478.2H1512.7M1343.9 530.0H1376.0M1437.0 478.2H1451.1M1300.7 505.2H1307.3M1429.3 514.2H1435.5M1465.2 530.0H1495.2M1394.0 552.5H1430.0M1437.5 559.2H1463.5M1483.9 552.5H1512.5M1305.9 532.2H1360.2M1441.1 534.5H1488.4M1389.5 532.2H1418.1M1460.8 530.0H1503.9M1482.1 494.0H1532.6M1486.5 487.2H1536.5M1326.0 496.2H1360.4" stroke="#000" stroke-width="0.7" opacity="0.38" fill="none"/>
</g>
<path d="M 1292.4 479.6 L 1537.2 477.2 L 1537.2 559.5 L 1292.4 563.6 Z" fill="none" stroke="#1a1a00" stroke-width="0.8" opacity="0.5"/>
<g clip-path="url(#fc5)">
<rect x="1414.2" y="325.5" width="243.4" height="100.7" fill="#50d024"/>
<g filter="url(#fb5)">
<polygon points="1505.3,328.1 1564.7,328.1 1579.6,374.0 1567.4,422.6 1494.5,424.0 1492.5,374.0" fill="#c6d01e"/>
<polygon points="1459.4,333.5 1497.2,333.5 1486.4,340.3 1464.8,338.9" fill="#c8d820"/>
<polygon points="1464.8,419.9 1475.6,413.2 1494.5,414.5 1502.6,422.6" fill="#c8d020"/>
<polygon points="1591.7,332.8 1621.4,332.2 1610.6,337.6 1594.4,336.2" fill="#c8d820"/>
<polygon points="1586.3,414.5 1610.6,411.8 1621.4,418.6" fill="#c8d020"/>
<polygon points="1435.1,340.3 1456.7,355.1 1454.0,376.7 1444.6,406.4 1431.1,417.2 1437.8,376.7" fill="#ccd422"/>
<polygon points="1637.6,341.6 1621.4,360.5 1622.8,387.5 1632.2,406.4 1641.7,413.2 1641.7,376.7" fill="#ccd422"/>
<polygon points="1429.0,341.6 1435.4,345.7 1438.5,378.1 1434.4,406.4 1429.0,414.5 1432.1,378.1" fill="#e0901c"/>
<polygon points="1643.0,340.3 1637.6,353.8 1636.3,380.8 1640.3,407.8 1647.1,414.5 1643.0,380.8" fill="#e0901c"/>
<polygon points="1414.9,332.8 1425.7,332.8 1429.0,341.6 1420.3,348.4 1414.9,347.0" fill="#e8801c"/>
<polygon points="1414.9,421.3 1424.3,421.3 1429.0,414.5 1420.3,406.4 1414.9,407.8" fill="#e8801c"/>
<rect x="1414.9" y="332.8" width="4.1" height="9.5" fill="#f05010"/>
<rect x="1414.9" y="411.8" width="4.1" height="9.5" fill="#f05010"/>
<rect x="1651.8" y="331.5" width="4.1" height="8.1" fill="#e08020"/>
<rect x="1651.8" y="407.8" width="4.1" height="8.8" fill="#f06010"/>
<ellipse cx="1539.1" cy="369.3" rx="4.3" ry="4.1" fill="#60cc28"/>
<ellipse cx="1464.8" cy="344.3" rx="12.2" ry="6.8" fill="#70e828"/>
<ellipse cx="1602.5" cy="341.6" rx="12.2" ry="5.4" fill="#70e828"/>
</g>
<rect x="1414.2" y="325.5" width="243.4" height="100.7" fill="url(#mesh)" opacity="0.3"/>
<path d="M1441.3 415.0V426.2M1628.0 346.0V356.3M1468.3 345.9V371.0M1623.5 408.4V426.2M1551.5 369.9V397.0M1531.3 347.5V405.3M1569.5 393.3V401.5M1488.5 319.6V338.2M1619.0 316.9V348.2M1479.5 320.8V339.4M1560.5 380.4V409.7M1481.8 392.5V420.8M1504.3 348.7V355.2M1652.8 409.5V426.2M1520.0 377.8V396.9M1466.0 400.3V418.3M1574.0 331.8V349.2M1598.8 328.6V372.6M1535.8 398.6V426.2M1628.0 326.2V376.7M1439.0 341.1V391.5M1616.8 341.7V364.8M1452.5 323.9V352.5M1544.8 365.5V375.2M1490.8 370.7V383.5M1479.5 355.0V384.0M1585.3 333.0V354.1M1484.0 395.9V426.2M1517.8 399.4V423.0M1517.8 372.0V412.9M1425.5 351.2V393.6M1556.0 348.5V383.3M1567.3 356.3V397.5M1475.0 381.8V426.2M1468.3 369.9V413.0M1616.8 350.3V387.9M1556.0 316.5V376.1M1576.3 325.4V358.9M1468.3 363.8V404.8M1533.5 411.2V426.2M1497.5 403.5V420.7M1562.8 318.3V358.3M1551.5 396.8V426.2M1637.0 336.1V365.2M1520.0 359.6V370.7M1517.8 358.5V385.9M1652.8 348.2V357.3M1632.5 329.2V343.2M1441.3 391.5V426.2M1603.3 395.1V426.2M1630.3 400.1V425.9M1601.0 416.0V426.2M1535.8 369.9V389.1M1421.0 366.4V376.8M1517.8 358.6V409.2M1650.5 356.7V412.5M1621.3 338.1V352.2M1580.8 391.1V426.2M1571.8 367.4V426.2M1603.3 342.4V386.0M1529.0 363.2V370.5M1450.3 367.5V406.2M1612.3 375.6V416.1M1616.8 345.9V364.6M1466.0 402.7V426.2M1441.3 363.9V408.6M1544.8 341.1V351.4M1610.0 353.9V403.0M1457.0 396.6V424.2M1511.0 396.2V426.2M1436.8 321.8V358.5M1650.5 374.4V411.5M1551.5 346.0V396.5M1499.8 337.0V392.8M1594.3 355.3V362.8M1468.3 329.7V354.0M1625.8 350.5V358.2M1452.5 413.6V426.2M1585.3 368.8V392.9M1610.0 325.4V334.0M1643.8 377.2V400.9M1547.0 345.8V383.7M1490.8 386.5V426.2M1605.5 350.8V398.8M1448.0 388.1V399.4M1508.8 316.3V343.1M1576.3 415.5V426.2M1445.8 390.7V426.2M1488.5 399.0V426.2M1641.5 324.7V343.2M1421.0 321.0V347.4M1533.5 374.8V406.6M1511.0 336.2V355.3M1472.8 352.4V388.3M1562.8 348.5V358.2M1421.0 351.4V409.9M1562.8 414.9V426.2M1621.3 346.9V406.1M1416.5 355.8V366.6M1594.3 387.0V426.2M1637.0 329.9V381.5M1515.5 345.1V358.8M1499.8 317.6V348.0M1454.8 354.8V405.7M1454.8 391.4V421.7M1479.5 357.7V411.0M1642.1 400.0H1655.6M1478.3 361.8H1525.6M1425.0 386.5H1452.9M1628.9 397.8H1651.0M1574.1 339.3H1597.8M1581.9 355.0H1634.6M1569.4 348.3H1610.8M1586.7 368.5H1605.4M1496.8 368.5H1531.0M1591.4 404.5H1638.3M1510.3 355.0H1529.8M1580.0 409.0H1603.4M1621.3 409.0H1655.6M1497.7 391.0H1526.6M1482.6 411.3H1532.5M1583.2 411.3H1606.2M1536.2 422.5H1564.7M1520.9 330.3H1542.6M1526.1 420.3H1563.3M1469.5 413.5H1495.3M1557.3 339.3H1567.5M1575.5 361.8H1624.1M1535.1 373.0H1570.1M1642.5 406.8H1655.6M1567.6 361.8H1584.7M1495.6 382.0H1507.0M1457.1 409.0H1481.1M1617.2 406.8H1655.6M1491.7 409.0H1506.8M1513.7 415.8H1520.4M1495.4 415.8H1545.5M1595.5 415.8H1616.5M1479.7 373.0H1533.5M1486.8 382.0H1501.3M1441.1 397.8H1464.9M1529.2 375.3H1536.9M1518.7 366.3H1545.7M1473.3 402.3H1508.9M1633.3 352.8H1655.6M1606.8 368.5H1626.7M1456.5 325.8H1493.0M1468.9 346.0H1509.1M1615.8 341.5H1649.6M1575.2 339.3H1605.2M1614.1 359.5H1653.9M1426.0 420.3H1447.0M1597.0 409.0H1655.6M1592.1 393.3H1603.0M1469.8 341.5H1499.4M1530.1 339.3H1580.7M1635.7 359.5H1655.6M1421.9 348.3H1471.8M1428.3 409.0H1486.4M1561.5 364.0H1605.7M1426.1 352.8H1448.7M1556.7 397.8H1610.4M1641.0 370.8H1655.6M1526.6 325.8H1549.1M1447.0 386.5H1461.5M1520.1 330.3H1564.4M1423.8 337.0H1471.3M1482.9 404.5H1518.2M1603.8 395.5H1654.9M1515.7 361.8H1558.1M1573.6 375.3H1584.2M1422.0 395.5H1453.5M1439.9 375.3H1488.1M1440.9 386.5H1490.8M1580.7 379.8H1637.5M1577.8 339.3H1591.3M1611.6 357.3H1636.6M1632.3 402.3H1655.6M1491.2 415.8H1508.5M1486.6 370.8H1498.2M1585.9 346.0H1602.8M1522.6 325.8H1531.5M1455.5 406.8H1486.8M1622.3 325.8H1655.5M1460.8 361.8H1484.0M1549.8 377.5H1601.6M1443.7 391.0H1471.9M1609.9 377.5H1652.9M1507.0 355.0H1551.6M1580.6 391.0H1614.3M1625.9 359.5H1635.3M1533.4 393.3H1571.1M1515.0 404.5H1560.1M1440.7 400.0H1491.7M1489.5 370.8H1498.4M1547.9 406.8H1595.9M1581.2 422.5H1630.9M1628.3 346.0H1648.0M1606.4 393.3H1655.6M1512.3 422.5H1532.3M1615.8 406.8H1655.6M1608.0 364.0H1649.0M1460.6 397.8H1482.7M1554.2 373.0H1592.1M1521.5 361.8H1528.1M1455.8 411.3H1504.5M1446.7 355.0H1473.3M1444.1 339.3H1452.4M1543.0 352.8H1558.1M1624.0 339.3H1631.4M1465.2 375.3H1483.3" stroke="#000" stroke-width="0.7" opacity="0.38" fill="none"/>
</g>
<path d="M 1416.2 334.2 L 1481.0 331.5 L 1655.6 331.9 L 1655.6 416.1 L 1602.5 417.5 L 1416.2 420.2 Z" fill="none" stroke="#1a1a00" stroke-width="0.8" opacity="0.5"/>
<g clip-path="url(#fc6)">
<rect x="1690.2" y="325.9" width="243.0" height="100.7" fill="#c6d81c"/>
<g filter="url(#fb6)">
<ellipse cx="1694.9" cy="378.1" rx="36.5" ry="44.6" fill="#d8981c"/>
<ellipse cx="1685.4" cy="379.4" rx="17.6" ry="31.1" fill="#c6d81c"/>
<ellipse cx="1932.5" cy="374.0" rx="35.1" ry="41.9" fill="#d8981c"/>
<ellipse cx="1936.5" cy="374.0" rx="12.8" ry="29.7" fill="#b0d828"/>
<ellipse cx="1716.5" cy="337.6" rx="9.5" ry="6.1" fill="#60d030"/>
<ellipse cx="1716.5" cy="417.2" rx="8.1" ry="5.4" fill="#60d030"/>
<ellipse cx="1906.8" cy="336.9" rx="8.1" ry="5.4" fill="#60d030"/>
<ellipse cx="1908.2" cy="413.2" rx="7.4" ry="5.4" fill="#60d030"/>
<ellipse cx="1747.5" cy="337.3" rx="14.9" ry="4.3" fill="#e0a01c"/>
<ellipse cx="1809.6" cy="335.9" rx="10.1" ry="2.7" fill="#d89820"/>
<ellipse cx="1875.8" cy="336.5" rx="11.5" ry="3.4" fill="#e0a01c"/>
<ellipse cx="1747.5" cy="418.3" rx="14.2" ry="4.1" fill="#d8981c"/>
<ellipse cx="1809.6" cy="415.2" rx="14.2" ry="5.4" fill="#d8981c"/>
<ellipse cx="1804.2" cy="402.1" rx="11.5" ry="2.4" fill="#d8981c"/>
<ellipse cx="1875.8" cy="416.1" rx="13.5" ry="3.4" fill="#d8981c"/>
<rect x="1691.5" y="336.2" width="6.1" height="8.1" fill="#f06010"/>
<rect x="1691.5" y="410.5" width="6.1" height="10.8" fill="#f07010"/>
<rect x="1926.0" y="333.5" width="5.7" height="8.1" fill="#f06010"/>
<rect x="1926.0" y="408.4" width="5.7" height="8.1" fill="#f05010"/>
<ellipse cx="1774.5" cy="347.0" rx="40.5" ry="8.1" fill="#d4e81c"/>
<ellipse cx="1855.5" cy="347.0" rx="33.8" ry="8.1" fill="#d4e81c"/>
</g>
<rect x="1690.2" y="325.9" width="243.0" height="100.7" fill="url(#mesh)" opacity="0.3"/>
<path d="M1712.7 347.3V403.6M1917.5 360.8V380.7M1917.5 372.3V418.8M1834.2 334.4V368.9M1917.5 388.0V426.6M1901.7 332.7V378.3M1823.0 380.2V387.9M1724.0 400.8V426.6M1798.2 318.3V324.8M1751.0 386.1V426.6M1751.0 383.2V422.1M1780.2 336.2V345.9M1908.5 408.7V426.6M1793.7 395.8V423.9M1780.2 324.7V345.5M1868.0 327.7V359.5M1811.7 321.6V349.2M1895.0 325.9V378.1M1814.0 347.7V398.4M1919.7 352.8V408.9M1753.2 334.4V390.3M1924.2 347.2V353.8M1827.5 406.3V426.6M1823.0 350.1V389.2M1872.5 333.5V355.1M1721.7 350.5V400.8M1796.0 396.8V403.7M1699.2 332.7V347.1M1886.0 382.4V426.6M1913.0 389.4V424.5M1719.5 372.3V394.7M1802.7 407.7V426.6M1863.5 339.3V397.3M1915.2 322.2V370.6M1717.2 333.4V369.6M1798.2 337.6V349.0M1766.7 359.6V377.1M1811.7 323.8V370.7M1739.7 356.3V399.0M1899.5 330.5V349.8M1712.7 394.3V426.6M1861.2 355.4V411.6M1726.2 371.3V386.2M1769.0 391.0V426.6M1800.5 357.9V376.3M1915.2 326.8V351.3M1890.5 345.8V403.1M1895.0 324.2V369.7M1841.0 388.6V424.7M1877.0 325.5V342.5M1883.7 405.6V426.6M1850.0 342.8V390.5M1865.7 340.9V376.0M1753.2 384.7V394.8M1726.2 408.3V426.6M1899.5 412.0V426.6M1852.2 332.3V382.8M1784.7 406.3V426.6M1908.5 343.5V368.9M1710.5 403.4V426.6M1910.7 412.8V426.6M1782.5 370.7V426.6M1895.0 354.7V414.1M1841.0 361.1V411.7M1895.0 415.8V426.6M1717.2 370.1V424.7M1843.2 366.4V404.1M1856.7 397.4V405.3M1904.0 329.4V357.2M1769.0 405.1V425.1M1748.7 358.9V369.3M1829.7 324.1V371.3M1782.5 363.9V384.6M1715.0 411.1V423.0M1701.5 412.2V426.6M1910.7 377.6V410.6M1748.7 392.3V426.6M1926.5 346.0V383.1M1870.2 369.3V410.7M1845.5 334.1V384.9M1805.0 330.5V353.2M1928.7 394.7V426.6M1852.2 398.7V426.6M1906.2 406.7V426.6M1863.5 400.3V408.6M1915.2 385.8V405.1M1798.2 389.4V426.6M1859.0 335.2V342.8M1764.5 353.2V390.0M1751.0 340.2V365.8M1692.5 369.0V407.0M1715.0 380.2V419.9M1816.2 327.9V349.3M1757.7 347.1V377.0M1784.7 377.4V383.7M1751.0 333.0V350.0M1910.7 394.7V409.0M1845.5 364.8V376.3M1823.0 404.8V420.0M1706.0 317.5V349.0M1863.5 319.0V330.2M1802.7 401.1V413.5M1782.5 317.2V374.4M1775.7 395.2V406.4M1737.5 316.1V343.9M1890.5 341.3V364.1M1720.2 368.9H1759.7M1713.6 391.4H1770.9M1804.4 389.2H1831.0M1718.7 395.9H1727.9M1824.5 346.4H1881.0M1901.6 384.7H1931.1M1773.2 407.2H1811.3M1808.8 330.7H1837.2M1741.0 409.4H1748.2M1797.5 409.4H1816.7M1736.3 346.4H1756.2M1750.4 366.7H1773.4M1833.1 407.2H1890.7M1861.1 418.4H1911.0M1782.7 371.2H1803.7M1909.6 416.2H1931.1M1728.0 393.7H1758.5M1710.2 391.4H1760.5M1848.8 409.4H1886.4M1833.3 404.9H1848.9M1730.3 337.4H1771.2M1822.7 364.4H1859.7M1781.4 326.2H1791.7M1721.4 422.9H1743.8M1817.8 380.2H1828.3M1828.7 384.7H1860.6M1694.3 420.7H1732.9M1768.2 380.2H1776.7M1836.7 362.2H1874.8M1713.7 330.7H1734.6M1778.5 382.4H1834.5M1846.9 382.4H1874.3M1718.2 359.9H1771.0M1782.4 332.9H1835.8M1743.4 422.9H1765.0M1813.1 380.2H1858.6M1736.1 413.9H1756.6M1741.0 364.4H1759.9M1776.5 395.9H1827.2M1706.6 400.4H1739.4M1706.4 330.7H1762.8M1814.2 371.2H1855.5M1748.0 395.9H1788.0M1873.5 344.2H1886.6M1737.2 380.2H1760.3M1708.1 411.7H1749.5M1759.1 326.2H1789.8M1857.6 413.9H1892.6M1792.7 409.4H1839.4M1723.9 366.7H1758.4M1749.7 411.7H1802.6M1795.9 407.2H1831.5M1918.3 348.7H1931.1M1718.1 339.7H1746.1M1887.2 353.2H1913.0M1881.4 380.2H1897.3M1895.2 348.7H1901.2M1910.1 377.9H1921.0M1875.5 375.7H1923.6M1766.7 389.2H1788.0M1870.2 398.2H1911.4M1763.7 359.9H1800.6M1874.7 404.9H1898.2M1695.9 350.9H1738.2M1750.1 341.9H1806.5M1708.0 416.2H1749.6M1874.8 344.2H1921.1M1799.3 377.9H1821.9M1810.8 377.9H1826.6M1851.9 341.9H1901.6M1860.7 332.9H1882.4M1700.6 357.7H1712.3M1872.1 366.7H1890.1M1850.2 400.4H1881.8M1728.2 422.9H1778.7M1750.3 395.9H1761.8M1806.4 355.4H1814.3M1880.4 337.4H1898.2M1840.1 402.7H1882.6M1853.4 386.9H1894.7M1854.2 346.4H1892.4M1720.7 404.9H1765.4M1799.5 355.4H1814.6M1768.3 404.9H1827.7M1916.0 418.4H1931.1M1716.7 373.4H1764.5M1771.4 337.4H1779.5M1776.1 400.4H1830.7M1863.2 393.7H1922.2M1750.4 391.4H1778.2M1815.8 330.7H1837.2M1835.1 393.7H1883.0M1794.5 418.4H1822.6M1782.7 407.2H1802.5M1711.3 357.7H1730.4M1840.4 386.9H1884.6M1868.8 391.4H1892.6M1872.7 389.2H1908.5M1860.5 335.2H1877.3M1862.6 420.7H1891.1M1746.2 384.7H1795.1M1784.9 386.9H1823.2M1783.3 375.7H1801.6M1885.4 411.7H1927.5M1749.1 409.4H1778.1" stroke="#000" stroke-width="0.7" opacity="0.38" fill="none"/>
</g>
<path d="M 1692.2 336.9 L 1744.8 333.5 L 1801.5 334.6 L 1869.0 331.9 L 1931.1 334.2 L 1931.1 416.1 L 1869.0 418.3 L 1747.5 420.6 L 1692.2 420.6 Z" fill="none" stroke="#1a1a00" stroke-width="0.8" opacity="0.5"/>
<g clip-path="url(#fc7)">
<rect x="785.8" y="1312.5" width="240.3" height="94.6" fill="#f4620c"/>
<g filter="url(#fb7)">
<ellipse cx="789.2" cy="1359.0" rx="9.2" ry="25.0" fill="#d4c41c"/>
<ellipse cx="787.8" cy="1359.0" rx="4.1" ry="16.2" fill="#c8d820"/>
<ellipse cx="907.3" cy="1359.0" rx="8.4" ry="18.9" fill="#e0ac1c"/>
<ellipse cx="1023.4" cy="1359.0" rx="10.1" ry="26.3" fill="#d4c41c"/>
<ellipse cx="1024.8" cy="1359.0" rx="4.1" ry="16.2" fill="#c0d820"/>
<ellipse cx="818.2" cy="1318.5" rx="6.8" ry="2.4" fill="#e0b020"/>
<ellipse cx="816.9" cy="1401.1" rx="6.1" ry="2.4" fill="#e0b020"/>
<ellipse cx="996.4" cy="1319.2" rx="7.4" ry="3.4" fill="#e0c020"/>
<ellipse cx="993.7" cy="1398.8" rx="7.4" ry="3.4" fill="#e0c020"/>
<rect x="787.2" y="1317.8" width="4.7" height="7.4" fill="#f01010"/>
<rect x="787.2" y="1394.1" width="4.7" height="7.4" fill="#f01010"/>
<rect x="1020.0" y="1317.8" width="4.7" height="7.4" fill="#f01010"/>
<rect x="1020.0" y="1391.4" width="4.7" height="7.4" fill="#f01010"/>
</g>
<rect x="785.8" y="1312.5" width="240.3" height="94.6" fill="url(#mesh)" opacity="0.3"/>
<path d="M1017.6 1326.4V1342.4M842.1 1380.3V1392.2M923.1 1392.7V1407.1M855.6 1316.3V1354.3M932.1 1302.7V1322.9M929.9 1318.8V1366.1M932.1 1396.9V1407.1M882.6 1332.9V1343.3M1010.9 1327.1V1357.0M851.1 1320.6V1330.7M844.4 1368.5V1407.1M959.1 1369.1V1379.0M1017.6 1395.4V1407.1M1001.9 1333.6V1344.1M952.4 1346.1V1356.2M1013.1 1376.7V1407.1M864.6 1344.6V1390.0M945.6 1394.8V1407.1M938.9 1307.8V1356.6M902.9 1373.6V1407.1M938.9 1325.9V1361.0M902.9 1372.3V1407.1M898.4 1303.7V1359.7M801.6 1349.4V1357.4M889.4 1374.4V1402.4M860.1 1395.8V1407.1M986.1 1348.8V1387.8M986.1 1364.4V1377.9M938.9 1311.2V1360.0M889.4 1389.9V1407.1M952.4 1302.6V1348.9M828.6 1374.5V1407.1M794.9 1368.8V1387.0M979.4 1390.0V1401.7M898.4 1394.7V1405.9M826.4 1325.2V1341.8M812.9 1317.8V1331.4M801.6 1393.2V1407.1M932.1 1375.3V1407.1M952.4 1369.9V1406.4M927.6 1350.4V1386.8M817.4 1347.1V1374.2M943.4 1328.6V1357.7M842.1 1304.2V1334.9M797.1 1304.3V1317.5M812.9 1364.8V1376.4M846.6 1366.7V1407.1M835.4 1312.8V1352.5M869.1 1346.1V1376.8M986.1 1379.9V1406.3M974.9 1343.0V1361.8M812.9 1383.7V1406.1M842.1 1375.9V1407.1M1004.1 1371.1V1407.1M1001.9 1375.1V1407.1M900.6 1350.2V1376.6M860.1 1338.3V1382.2M947.9 1382.3V1407.1M810.6 1328.5V1339.7M826.4 1336.5V1382.2M801.6 1322.6V1370.4M965.9 1355.6V1396.0M803.9 1352.4V1401.9M956.9 1313.8V1355.0M824.1 1328.1V1342.3M884.9 1308.2V1340.4M965.9 1357.7V1382.8M988.4 1330.9V1355.2M972.6 1361.2V1407.1M801.6 1345.1V1393.9M929.9 1340.8V1396.6M1022.1 1309.8V1316.0M797.1 1338.1V1350.5M1013.1 1362.8V1382.0M959.1 1391.1V1407.1M837.6 1353.9V1393.8M806.1 1306.8V1363.5M997.4 1339.2V1381.5M837.6 1372.3V1388.7M950.1 1375.3V1397.7M923.1 1324.2V1354.9M911.9 1391.4V1407.1M977.1 1384.9V1407.1M902.9 1368.4V1385.1M963.6 1364.6V1403.4M972.6 1365.8V1389.0M972.6 1343.1V1374.7M889.4 1376.8V1393.6M889.4 1377.9V1407.1M887.1 1365.9V1407.1M938.9 1392.9V1407.1M929.9 1325.1V1379.0M925.4 1358.1V1367.6M871.4 1318.9V1325.3M871.4 1357.6V1385.5M938.9 1360.9V1402.0M1017.6 1312.2V1340.5M943.4 1336.2V1367.0M896.1 1387.1V1407.1M945.6 1343.2V1387.3M794.9 1394.0V1407.1M869.1 1344.0V1394.2M983.9 1356.2V1391.5M898.4 1333.8V1389.1M977.1 1327.7V1384.3M867.1 1328.6H880.8M945.9 1375.8H959.5M899.3 1319.6H920.9M1002.3 1362.3H1024.1M962.7 1348.8H975.9M884.3 1360.1H891.6M810.6 1396.1H850.2M833.2 1344.3H873.0M1000.2 1317.3H1024.1M926.1 1326.3H954.6M808.4 1315.1H817.5M897.9 1362.3H918.7M805.2 1389.3H821.5M905.1 1364.6H942.1M937.8 1317.3H985.9M828.3 1335.3H864.1M850.6 1342.1H906.9M955.7 1319.6H990.1M830.5 1387.1H870.4M1001.7 1380.3H1013.7M889.3 1380.3H915.7M921.5 1371.3H932.6M815.5 1335.3H847.9M970.3 1353.3H1003.2M956.5 1357.8H980.0M870.5 1380.3H893.2M797.8 1315.1H855.2M844.4 1391.6H901.6M883.6 1315.1H894.4M953.0 1342.1H994.8M839.4 1373.6H871.3M856.8 1346.6H875.3M934.2 1328.6H966.1M900.2 1393.8H956.6M1002.6 1380.3H1016.6M972.5 1315.1H981.2M1008.1 1315.1H1024.1M845.5 1382.6H876.3M975.5 1324.1H1004.0M809.5 1389.3H866.2M796.1 1378.1H851.3M1005.4 1378.1H1021.1M999.6 1335.3H1024.1M996.8 1353.3H1008.8M1005.6 1364.6H1024.1M823.7 1312.8H844.0M881.2 1344.3H925.6M934.8 1337.6H970.3M982.2 1380.3H998.1M967.5 1317.3H975.1M933.2 1373.6H950.4M817.1 1369.1H872.0M976.6 1326.3H1024.1M931.4 1342.1H962.1M910.8 1346.6H953.0M816.8 1326.3H863.9M903.8 1328.6H911.3M883.0 1355.6H912.9M817.0 1400.6H859.2M822.0 1387.1H854.3M948.4 1324.1H986.4M839.0 1387.1H882.9M873.9 1369.1H901.0M833.0 1315.1H841.0M876.7 1342.1H905.3M912.2 1326.3H946.0M968.9 1396.1H993.9M917.1 1384.8H962.9M825.3 1333.1H847.3M991.0 1330.8H1024.1M788.1 1321.8H835.3M876.7 1351.1H890.5M840.4 1387.1H894.2M880.4 1315.1H910.7M845.4 1369.1H896.9M1012.6 1317.3H1024.1M800.7 1355.6H839.5M1012.4 1326.3H1024.1M887.3 1326.3H916.4M859.6 1373.6H914.3M884.9 1353.3H937.5M855.2 1353.3H877.3M851.0 1405.1H861.5M999.4 1339.8H1024.1M900.4 1315.1H931.6M983.8 1360.1H1024.1M988.7 1319.6H1024.1M976.8 1366.8H995.3M983.9 1405.1H1024.1M837.6 1396.1H864.3M795.5 1382.6H852.7M872.4 1369.1H918.8M797.4 1324.1H804.5M874.4 1344.3H926.0M844.3 1312.8H869.9M865.3 1384.8H911.0M920.9 1387.1H949.2M883.6 1393.8H899.7M985.4 1398.3H994.3M808.9 1326.3H840.0" stroke="#000" stroke-width="0.7" opacity="0.38" fill="none"/>
</g>
<path d="M 787.8 1318.5 L 1024.1 1318.5 L 1024.1 1398.8 L 896.5 1401.1 L 787.8 1401.1 Z" fill="none" stroke="#1a1a00" stroke-width="0.8" opacity="0.5"/>
<g clip-path="url(#fc8)">
<rect x="928.0" y="1160.9" width="234.5" height="111.0" fill="#f0620a"/>
<g filter="url(#fb8)">
<rect x="928.0" y="1165.0" width="15.8" height="100.0" fill="#f40e06"/>
<polygon points="937.5,1197.5 945.7,1180.7 963.8,1173.5 1003.2,1173.5 1022.6,1186.3 1032.6,1203.8 1032.6,1222.6 1025.1,1240.1 1006.4,1247.6 1000.1,1253.9 968.8,1253.9 960.0,1247.6 945.7,1243.2 937.5,1228.8" fill="#f40e06"/>
<polygon points="930.0,1238.0 944.0,1244.0 950.0,1262.0 930.0,1262.0" fill="#f40e06"/>
<polygon points="962.5,1181.3 998.8,1181.3 1009.5,1210.1 1000.1,1244.5 965.1,1246.4 960.0,1216.3" fill="#ee640c"/>
<ellipse cx="990.0" cy="1213.0" rx="8.0" ry="26.0" fill="#e45c0c"/>
<polygon points="943.8,1170.0 962.5,1170.0 962.0,1181.3 950.0,1191.0" fill="#f0640a"/>
<polygon points="946.0,1262.0 951.0,1246.0 962.0,1245.0 968.0,1262.0" fill="#f4700c"/>
<ellipse cx="981.0" cy="1257.5" rx="14.0" ry="4.0" fill="#cc0c04"/>
<rect x="977.2" y="1206.2" width="8.0" height="3.2" fill="#70ff40"/>
<rect x="977.5" y="1220.2" width="8.0" height="3.6" fill="#38e878"/>
<rect x="982.0" y="1220.4" width="3.6" height="3.2" fill="#a0f030"/>
<rect x="982.0" y="1206.4" width="3.4" height="2.8" fill="#c8f040"/>
<polygon points="1053.1,1213.2 1060.6,1195.0 1071.3,1183.8 1078.8,1170.0 1096.3,1170.0 1101.3,1180.7 1107.6,1183.8 1125.7,1183.8 1125.7,1246.4 1120.1,1244.5 1107.6,1245.1 1095.1,1260.0 1078.8,1260.0 1070.0,1247.6 1057.5,1235.1" fill="#ecb818"/>
<rect x="1123.8" y="1168.0" width="21.3" height="14.5" fill="#ecb818"/>
<rect x="1123.8" y="1244.5" width="21.3" height="16.0" fill="#ecb818"/>
<polygon points="1125.7,1183.0 1146.0,1183.0 1152.0,1192.0 1150.8,1213.2 1153.0,1236.0 1146.0,1244.8 1125.7,1244.8" fill="#ea5e0c"/>
<polygon points="1162.0,1185.0 1155.1,1191.3 1150.8,1213.2 1153.9,1235.1 1162.0,1241.4" fill="#e4b418"/>
<polygon points="1096.3,1170.0 1124.0,1170.0 1124.0,1183.6 1107.6,1183.8 1101.3,1180.7" fill="#f8620c"/>
<polygon points="1095.1,1260.0 1107.6,1245.1 1120.1,1244.5 1124.0,1247.6 1124.0,1260.0" fill="#f8620c"/>
<ellipse cx="1085.0" cy="1214.0" rx="22.0" ry="12.0" fill="#f0bc1c"/>
</g>
<rect x="928.0" y="1160.9" width="234.5" height="111.0" fill="url(#mesh)" opacity="0.3"/>
<path d="M1042.8 1259.0V1271.9M982.0 1220.3V1258.3M1130.5 1151.8V1178.5M1063.0 1165.9V1232.0M964.0 1227.3V1269.8M1056.3 1196.4V1243.0M968.5 1184.8V1198.1M1027.0 1157.6V1218.3M1000.0 1200.1V1218.2M979.8 1253.0V1271.9M1114.8 1209.1V1242.6M1081.0 1153.7V1189.8M1038.3 1207.7V1242.3M948.3 1205.4V1234.6M968.5 1164.9V1224.0M1135.0 1245.5V1252.8M968.5 1162.4V1199.7M1040.5 1182.6V1231.5M1054.0 1191.5V1199.0M1063.0 1229.3V1269.8M1103.5 1220.1V1249.6M1029.3 1185.5V1217.5M1146.3 1214.3V1240.6M1065.3 1155.8V1180.0M1054.0 1239.6V1271.9M1029.3 1154.7V1180.3M997.8 1208.0V1256.2M1155.3 1229.5V1240.4M943.8 1233.3V1247.9M1031.5 1213.0V1231.1M1146.3 1224.4V1271.9M1054.0 1261.4V1271.9M1112.5 1193.6V1258.5M1139.5 1208.1V1255.7M1144.0 1261.1V1271.9M1015.8 1226.2V1269.7M955.0 1249.4V1271.9M1092.3 1252.6V1270.1M1144.0 1151.1V1209.8M977.5 1173.0V1202.7M1103.5 1235.2V1270.0M1144.0 1195.2V1243.0M1130.5 1193.7V1241.2M1117.0 1154.8V1216.5M1033.8 1261.0V1271.9M1045.0 1190.9V1223.7M1128.3 1221.6V1271.9M1085.5 1187.9V1217.8M1018.0 1172.4V1229.8M1128.3 1184.4V1210.0M1078.8 1232.5V1271.9M1049.5 1173.7V1229.8M966.3 1152.8V1218.1M1141.8 1227.2V1257.8M1015.8 1173.8V1239.8M1058.5 1257.0V1271.9M997.8 1173.6V1227.2M975.3 1225.9V1241.8M1024.8 1226.2V1264.0M961.8 1184.9V1195.5M993.3 1188.3V1227.8M1128.3 1196.3V1259.4M988.8 1245.6V1271.9M1049.5 1254.6V1271.9M1000.0 1236.8V1271.9M1042.8 1156.8V1166.7M1150.8 1237.9V1263.1M988.8 1206.4V1231.7M1058.5 1233.7V1271.9M1056.3 1237.1V1250.4M964.0 1197.0V1248.9M1144.0 1177.6V1201.4M1144.0 1249.5V1271.9M1022.5 1261.3V1271.9M1036.0 1241.5V1271.9M991.0 1217.6V1271.9M952.8 1192.3V1211.3M1132.8 1219.8V1250.2M1040.5 1177.6V1209.9M1011.3 1153.5V1206.6M1015.8 1224.8V1271.9M1004.5 1261.3V1268.7M1072.0 1172.0V1178.8M1027.0 1184.2V1226.7M1085.5 1211.6V1265.3M1013.5 1152.6V1181.0M1036.0 1215.4V1271.9M1146.3 1210.2V1259.1M1119.3 1174.5V1182.5M1015.8 1221.6V1230.3M1090.0 1165.7V1178.4M1018.0 1197.7V1258.7M1033.8 1246.9V1271.9M995.5 1226.4V1271.9M993.3 1206.2V1250.7M995.5 1153.7V1189.5M1004.5 1190.1V1200.5M991.0 1160.3V1187.0M1029.3 1217.4V1271.9M1036.0 1195.7V1232.5M1110.3 1214.1V1267.3M975.3 1223.5V1256.6M1080.4 1242.2H1124.0M1138.0 1190.5H1147.0M933.6 1177.0H973.7M1121.7 1222.0H1134.6M1116.7 1217.5H1160.5M948.4 1195.0H964.7M1146.4 1235.5H1160.5M966.5 1253.5H1007.3M1111.9 1255.7H1136.8M1111.9 1228.7H1151.6M1129.8 1163.5H1157.8M1130.4 1231.0H1152.9M1079.7 1264.7H1105.7M980.5 1264.7H987.3M966.7 1219.7H1011.8M933.7 1206.2H975.7M989.6 1267.0H1024.3M1086.0 1264.7H1117.4M1001.5 1165.7H1014.1M965.8 1222.0H1007.7M1018.4 1242.2H1063.7M1143.3 1183.7H1160.5M941.4 1240.0H955.0M1111.5 1195.0H1119.2M970.1 1215.2H1024.0M984.2 1253.5H992.2M1009.7 1201.7H1057.1M1113.5 1192.7H1142.4M983.1 1249.0H1025.6M1147.4 1186.0H1160.5M982.8 1186.0H994.0M1062.3 1237.7H1085.9M936.2 1192.7H963.6M1017.3 1168.0H1072.3M1077.1 1255.7H1086.8M1104.3 1242.2H1152.2M1007.4 1161.2H1054.4M968.9 1237.7H976.3M1044.7 1237.7H1100.3M1093.7 1197.2H1124.8M1089.5 1199.5H1136.4M1107.4 1174.7H1124.7M1062.8 1240.0H1117.5M992.7 1177.0H1027.6M1087.8 1208.5H1140.3M1051.0 1208.5H1105.0M1095.3 1267.0H1122.5M1146.7 1172.5H1160.5M1091.0 1217.5H1132.9M1146.9 1251.2H1160.5M1084.1 1226.5H1126.9M1046.6 1170.2H1076.6M1070.7 1267.0H1090.6M1046.6 1165.7H1064.3M1030.1 1170.2H1042.3M1112.4 1206.2H1135.2M930.4 1179.2H977.2M1100.6 1161.2H1125.4M963.2 1177.0H1001.7M1058.1 1192.7H1077.1M1011.0 1188.2H1040.5M1072.8 1204.0H1127.1M948.3 1246.7H998.6M1027.4 1240.0H1056.0M955.0 1269.2H968.7M952.6 1242.2H975.8M1095.4 1246.7H1137.7M1028.3 1249.0H1078.0M1078.3 1242.2H1085.3M978.4 1201.7H1008.3M1112.0 1231.0H1136.4M1042.8 1219.7H1077.4M1017.1 1201.7H1051.5M1142.7 1201.7H1160.5M1120.4 1219.7H1132.5M978.1 1170.2H1032.0M1059.5 1219.7H1100.1M1049.2 1264.7H1103.4M1019.8 1224.2H1049.2M1148.0 1233.2H1160.5M956.3 1262.5H991.0M1145.5 1242.2H1160.5M1021.8 1246.7H1061.4M1097.4 1170.2H1146.5M1109.2 1249.0H1160.0M1128.0 1181.5H1160.5M1106.6 1253.5H1158.8M1050.6 1168.0H1099.8M1006.8 1192.7H1015.4M1134.7 1188.2H1160.5M978.8 1246.7H994.0M1040.6 1246.7H1065.8M986.4 1161.2H1036.8M1003.1 1233.2H1016.2M1120.6 1163.5H1158.4M1045.8 1165.7H1053.9M991.3 1249.0H1026.7M1127.7 1210.7H1160.5M1077.6 1213.0H1097.5M991.6 1262.5H999.7M1019.1 1217.5H1059.2M1083.2 1174.7H1115.1M1094.7 1253.5H1103.3M930.0 1170.2H983.5M1077.6 1195.0H1105.1M965.4 1244.5H1019.0M968.9 1213.0H1000.0M1052.3 1224.2H1082.6M1018.2 1240.0H1060.8M1007.1 1208.5H1054.4M1118.5 1260.2H1156.0M1084.9 1228.7H1122.3M1072.5 1267.0H1127.6M947.8 1183.7H976.5M1007.8 1253.5H1058.6M1010.4 1215.2H1049.6M1025.6 1255.7H1069.6" stroke="#000" stroke-width="0.7" opacity="0.38" fill="none"/>
</g>
<path d="M 930.0 1174.2 L 957.5 1173.1 Q 980.0 1166.9 1003.0 1173.1 L 1085.0 1173.3 Q 1104.4 1169.3 1127.0 1173.3 L 1160.5 1173.6 L 1160.5 1253.9 L 1127.0 1254.6 Q 1102.0 1258.8 1081.0 1255.2 L 1004.0 1255.7 Q 981.3 1265.9 960.0 1255.9 L 930.0 1255.9 Z" fill="none" stroke="#1a1a00" stroke-width="0.8" opacity="0.5"/>
<g clip-path="url(#fc9)">
<rect x="1188.6" y="1154.3" width="231.4" height="122.5" fill="#f0620a"/>
<g filter="url(#fb9)">
<ellipse cx="1340.6" cy="1215.7" rx="39.3" ry="46.0" fill="#ecb018"/>
<ellipse cx="1340.6" cy="1215.7" rx="33.5" ry="41.0" fill="#ceda1a"/>
<rect x="1340.6" y="1165.0" width="90.0" height="100.0" fill="#ceda1a"/>
<ellipse cx="1360.0" cy="1184.0" rx="22.0" ry="7.0" fill="#e2f020"/>
<ellipse cx="1339.3" cy="1217.0" rx="21.6" ry="29.5" fill="#7ee82a"/>
<ellipse cx="1340.0" cy="1217.0" rx="12.5" ry="17.0" fill="#22e22e"/>
<ellipse cx="1406.0" cy="1245.0" rx="3.4" ry="2.8" fill="#e8f420"/>
<ellipse cx="1362.0" cy="1256.0" rx="9.0" ry="2.4" fill="#f0b018"/>
<polygon points="1202.5,1209.0 1203.9,1191.5 1201.1,1176.1 1216.5,1175.0 1224.2,1169.1 1235.4,1166.3 1248.0,1166.3 1259.2,1170.5 1266.2,1178.2 1276.0,1188.0 1283.0,1199.2 1285.8,1216.0 1283.0,1230.0 1276.0,1240.5 1265.5,1250.3 1258.5,1258.0 1248.0,1265.0 1234.0,1265.0 1224.2,1258.0 1216.5,1255.9 1201.1,1257.3 1203.9,1240.5 1202.5,1226.5" fill="#f40e06"/>
<polygon points="1225.6,1185.9 1255.7,1185.9 1269.0,1209.0 1270.0,1219.5 1268.3,1230.0 1255.0,1246.1 1226.3,1246.8 1220.7,1226.5 1220.0,1209.0" fill="#ee660c"/>
<ellipse cx="1256.0" cy="1217.0" rx="11.0" ry="22.0" fill="#dc5a0c"/>
<polygon points="1214.4,1176.4 1223.1,1176.4 1217.9,1190.1" fill="#f0640a"/>
<polygon points="1210.9,1254.1 1215.1,1244.0 1222.1,1254.5" fill="#f0700c"/>
<polygon points="1189.2,1174.0 1208.1,1174.0 1202.5,1183.1 1192.0,1188.0 1189.2,1189.4" fill="#f40e06"/>
<polygon points="1189.2,1247.5 1192.7,1248.9 1202.5,1253.1 1206.0,1259.4 1189.2,1259.4" fill="#f40e06"/>
<rect x="1188.0" y="1170.0" width="4.6" height="92.0" fill="#f40e06"/>
<ellipse cx="1239.0" cy="1265.5" rx="14.0" ry="3.4" fill="#c80c04"/>
</g>
<rect x="1188.6" y="1154.3" width="231.4" height="122.5" fill="url(#mesh)" opacity="0.3"/>
<path d="M1305.6 1190.9V1237.4M1256.1 1174.7V1232.0M1262.9 1233.6V1275.4M1391.1 1210.3V1276.8M1330.4 1168.7V1223.5M1359.6 1170.8V1237.7M1296.6 1245.0V1276.8M1251.6 1163.0V1213.5M1352.9 1185.8V1255.7M1341.6 1227.3V1239.2M1280.9 1193.6V1217.8M1190.9 1196.4V1226.9M1343.9 1154.2V1195.2M1247.1 1218.5V1276.8M1292.1 1160.1V1230.4M1395.6 1164.0V1223.4M1361.9 1257.6V1275.6M1334.9 1225.2V1233.7M1195.4 1165.3V1217.4M1310.1 1154.2V1189.0M1215.6 1161.8V1209.5M1298.9 1184.7V1226.0M1247.1 1254.5V1276.8M1373.1 1170.2V1193.6M1305.6 1245.4V1259.9M1388.9 1202.6V1212.4M1402.4 1250.1V1276.8M1404.6 1162.7V1232.3M1224.6 1156.1V1171.8M1240.4 1265.7V1276.8M1249.4 1252.2V1276.8M1332.6 1242.1V1276.8M1224.6 1249.4V1276.8M1384.4 1153.2V1178.6M1357.4 1246.3V1275.1M1298.9 1193.2V1254.7M1305.6 1191.6V1252.5M1343.9 1155.7V1221.0M1296.6 1232.7V1265.6M1316.9 1172.5V1236.1M1253.9 1224.3V1251.3M1388.9 1232.6V1253.3M1395.6 1226.9V1249.8M1274.1 1198.0V1268.7M1316.9 1195.9V1263.2M1208.9 1205.9V1273.2M1283.1 1240.9V1276.8M1262.9 1197.1V1222.7M1379.9 1245.5V1262.3M1298.9 1227.4V1274.2M1368.6 1226.0V1261.7M1298.9 1185.6V1204.9M1190.9 1226.0V1276.8M1244.9 1253.5V1276.8M1373.1 1176.3V1210.4M1406.9 1250.4V1272.0M1289.9 1224.7V1231.0M1334.9 1209.4V1215.5M1278.6 1260.7V1276.8M1238.1 1206.9V1267.3M1249.4 1176.6V1240.1M1310.1 1201.6V1243.5M1368.6 1238.4V1276.8M1364.1 1238.5V1258.0M1195.4 1266.7V1276.8M1211.1 1215.4V1276.8M1310.1 1181.0V1252.5M1370.9 1260.5V1276.8M1274.1 1168.1V1180.8M1303.4 1193.1V1210.7M1321.4 1184.6V1249.9M1319.1 1250.6V1276.8M1301.1 1195.5V1265.9M1240.4 1188.4V1208.4M1323.6 1214.5V1276.8M1298.9 1166.8V1234.4M1328.1 1214.5V1262.7M1325.9 1225.8V1276.8M1343.9 1173.6V1210.7M1193.1 1158.4V1218.1M1211.1 1185.4V1241.0M1352.9 1227.7V1252.3M1193.1 1215.7V1249.7M1238.1 1161.0V1229.1M1303.4 1148.7V1177.8M1256.1 1212.3V1238.0M1316.9 1151.3V1209.7M1256.1 1243.0V1256.9M1238.1 1177.7V1228.1M1211.1 1212.9V1232.2M1350.6 1165.6V1195.4M1343.9 1154.3V1206.0M1397.9 1159.7V1174.9M1346.1 1154.9V1212.1M1375.4 1190.8V1220.6M1415.9 1232.1V1276.8M1409.1 1263.0V1276.8M1411.4 1150.8V1179.9M1370.9 1197.7V1224.5M1402.4 1157.9V1197.4M1339.4 1233.8V1240.7M1389.9 1208.6H1418.0M1363.4 1267.1H1381.4M1350.0 1217.6H1386.6M1381.1 1165.8H1395.3M1226.8 1273.8H1255.4M1258.7 1190.6H1267.1M1195.0 1210.8H1249.3M1395.7 1172.6H1418.0M1311.5 1269.3H1332.2M1283.5 1224.3H1293.2M1226.2 1204.1H1267.0M1335.0 1201.8H1381.9M1272.5 1159.1H1292.2M1309.7 1186.1H1351.0M1356.6 1156.8H1410.4M1277.5 1260.3H1309.5M1240.1 1264.8H1272.8M1236.7 1161.3H1275.7M1374.0 1177.1H1384.8M1313.6 1154.6H1321.0M1219.2 1181.6H1273.7M1255.9 1244.6H1312.2M1230.4 1190.6H1275.3M1191.3 1174.8H1230.0M1276.7 1226.6H1333.1M1206.7 1217.6H1242.6M1285.1 1201.8H1315.4M1210.4 1242.3H1241.9M1350.1 1186.1H1380.7M1376.4 1255.8H1404.6M1387.6 1181.6H1402.4M1351.1 1222.1H1369.7M1339.8 1273.8H1354.4M1336.7 1228.8H1368.4M1207.4 1231.1H1225.6M1340.0 1186.1H1367.4M1312.6 1228.8H1330.9M1357.4 1199.6H1380.4M1211.7 1181.6H1249.6M1285.6 1159.1H1307.6M1334.7 1161.3H1350.2M1246.0 1249.1H1281.4M1233.3 1195.1H1257.8M1265.5 1177.1H1278.7M1306.0 1197.3H1322.1M1395.7 1161.3H1403.1M1221.3 1186.1H1231.3M1194.5 1208.6H1248.4M1243.9 1208.6H1257.7M1195.3 1163.6H1210.2M1265.3 1186.1H1284.3M1330.8 1163.6H1358.9M1285.4 1249.1H1326.5M1271.0 1258.1H1298.5M1357.5 1208.6H1409.5M1261.7 1190.6H1285.2M1250.0 1170.3H1268.4M1238.4 1159.1H1260.9M1249.5 1168.1H1271.1M1243.5 1242.3H1271.9M1304.1 1217.6H1340.7M1207.5 1190.6H1233.0M1194.4 1260.3H1225.6M1343.6 1269.3H1371.3M1260.4 1262.6H1317.0M1341.4 1240.1H1394.3M1389.8 1168.1H1416.0M1205.4 1183.8H1258.5M1352.1 1219.8H1375.3M1209.1 1240.1H1216.1M1208.8 1235.6H1221.4M1232.4 1213.1H1283.3M1318.1 1249.1H1325.0M1364.4 1170.3H1381.5M1329.8 1249.1H1341.2M1371.1 1215.3H1418.0M1372.8 1179.3H1418.0M1253.0 1253.6H1268.0M1213.4 1213.1H1262.2M1281.6 1262.6H1319.7M1249.1 1163.6H1281.8M1375.1 1190.6H1418.0M1250.2 1262.6H1262.5M1322.1 1260.3H1331.7M1275.6 1222.1H1326.8M1295.9 1240.1H1344.9M1299.7 1264.8H1347.8M1299.3 1190.6H1337.6M1252.2 1219.8H1267.9M1218.6 1226.6H1250.1M1267.8 1242.3H1300.0M1311.4 1186.1H1357.2M1190.7 1235.6H1233.5M1277.5 1258.1H1323.8M1282.4 1154.6H1310.0M1208.8 1168.1H1224.7M1359.5 1165.8H1380.6M1222.5 1170.3H1241.6M1228.3 1197.3H1262.5M1231.9 1246.8H1269.2M1196.1 1199.6H1244.7M1278.5 1197.3H1310.2M1331.6 1217.6H1350.3M1324.6 1231.1H1341.7M1200.0 1172.6H1222.5M1395.7 1233.3H1418.0M1366.9 1183.8H1404.8M1282.9 1240.1H1313.1M1321.9 1177.1H1356.2M1303.2 1258.1H1349.8M1195.1 1197.3H1231.9M1223.8 1204.1H1252.0M1306.7 1163.6H1361.2M1254.3 1233.3H1278.7M1262.1 1233.3H1316.7M1212.5 1253.6H1246.4M1335.8 1159.1H1359.3M1328.8 1181.6H1336.9M1210.7 1244.6H1236.6M1309.0 1231.1H1334.0M1371.6 1246.8H1396.8M1390.3 1168.1H1418.0M1219.9 1204.1H1239.2M1390.4 1168.1H1415.1M1319.6 1199.6H1355.8M1335.0 1240.1H1355.7M1279.3 1192.8H1291.8M1383.4 1249.1H1418.0M1401.5 1195.1H1418.0" stroke="#000" stroke-width="0.7" opacity="0.38" fill="none"/>
</g>
<path d="M 1190.6 1175.4 L 1215.8 1174.1 Q 1238.7 1160.3 1263.6 1174.1 L 1345.0 1174.6 Q 1365.5 1171.6 1386.0 1174.6 L 1418.0 1174.7 L 1418.0 1254.4 L 1386.0 1256.0 Q 1362.0 1259.2 1340.0 1257.0 L 1263.6 1257.6 Q 1239.4 1270.8 1213.2 1257.6 L 1190.6 1257.0 Z" fill="none" stroke="#1a1a00" stroke-width="0.8" opacity="0.5"/>
<g clip-path="url(#ca)">
<polyline points="137.5,680 374.4,150.5 562.9,100.7 697.0,80.2 775.4,79.3 797.4,111.1" fill="none" stroke="#ff0000" stroke-width="3.5" stroke-linejoin="round"/>
<circle cx="137.5" cy="680" r="9.5" fill="#fff" stroke="#ff0000" stroke-width="2"/><line x1="128.0" y1="680" x2="147.0" y2="680" stroke="#ff0000" stroke-width="1.5"/><line x1="137.5" y1="670.5" x2="137.5" y2="689.5" stroke="#ff0000" stroke-width="1.5"/>
</g>
<circle cx="374.4" cy="150.5" r="9.5" fill="#fff" stroke="#ff0000" stroke-width="2"/><line x1="364.9" y1="150.5" x2="383.9" y2="150.5" stroke="#ff0000" stroke-width="1.5"/><line x1="374.4" y1="141.0" x2="374.4" y2="160.0" stroke="#ff0000" stroke-width="1.5"/>
<circle cx="562.9" cy="100.7" r="9.5" fill="#fff" stroke="#ff0000" stroke-width="2"/><line x1="553.4" y1="100.7" x2="572.4" y2="100.7" stroke="#ff0000" stroke-width="1.5"/><line x1="562.9" y1="91.2" x2="562.9" y2="110.2" stroke="#ff0000" stroke-width="1.5"/>
<circle cx="697.0" cy="80.2" r="9.5" fill="#fff" stroke="#ff0000" stroke-width="2"/><line x1="687.5" y1="80.2" x2="706.5" y2="80.2" stroke="#ff0000" stroke-width="1.5"/><line x1="697.0" y1="70.7" x2="697.0" y2="89.7" stroke="#ff0000" stroke-width="1.5"/>
<circle cx="775.4" cy="79.3" r="9.5" fill="#fff" stroke="#ff0000" stroke-width="2"/><line x1="765.9" y1="79.3" x2="784.9" y2="79.3" stroke="#ff0000" stroke-width="1.5"/><line x1="775.4" y1="69.8" x2="775.4" y2="88.8" stroke="#ff0000" stroke-width="1.5"/>
<circle cx="797.4" cy="111.1" r="9.5" fill="#fff" stroke="#ff0000" stroke-width="2"/><line x1="787.9" y1="111.1" x2="806.9" y2="111.1" stroke="#8a8a96" stroke-width="1.0"/><line x1="797.4" y1="101.6" x2="797.4" y2="120.6" stroke="#ff0000" stroke-width="1.5"/>
<line x1="402.5" y1="433.6" x2="376.1" y2="174.8" stroke="#000" stroke-width="2.8"/><path d="M374.8 162.4 L382.7 176.0 L376.1 174.8 L369.8 177.3 Z" fill="#000"/>
<line x1="585.1" y1="274.8" x2="689.8" y2="102.3" stroke="#000" stroke-width="2.8"/><path d="M696.3 91.6 L694.4 107.2 L689.8 102.3 L683.3 100.5 Z" fill="#000"/>
<line x1="742.5" y1="426.2" x2="794.3" y2="136.7" stroke="#000" stroke-width="2.8"/><path d="M796.5 124.4 L800.4 139.6 L794.3 136.7 L787.6 137.3 Z" fill="#000"/>
<path d="M137.5 30.5 H936.5 V680" fill="none" stroke="#000" stroke-width="2.7" stroke-linejoin="miter"/>
<path d="M137.5 29.349999999999998 V680 H937.65" fill="none" stroke="#000" stroke-width="2.7"/>
<line x1="125.0" y1="680.00" x2="137.5" y2="680.00" stroke="#000" stroke-width="2.7"/>
<line x1="131.0" y1="598.81" x2="137.5" y2="598.81" stroke="#000" stroke-width="2.7"/>
<g transform="translate(116 688.4) scale(0.98 1.06)"><text font-size="28" text-anchor="end">0</text></g>
<line x1="125.0" y1="517.62" x2="137.5" y2="517.62" stroke="#000" stroke-width="2.7"/>
<line x1="131.0" y1="436.44" x2="137.5" y2="436.44" stroke="#000" stroke-width="2.7"/>
<g transform="translate(116 527.4) scale(0.98 1.06)"><text font-size="28" text-anchor="end">2×10<tspan dy="-9.9" dx="0.6" font-size="18.5">5</tspan></text></g>
<line x1="125.0" y1="355.25" x2="137.5" y2="355.25" stroke="#000" stroke-width="2.7"/>
<line x1="131.0" y1="274.06" x2="137.5" y2="274.06" stroke="#000" stroke-width="2.7"/>
<g transform="translate(116 365.1) scale(0.98 1.06)"><text font-size="28" text-anchor="end">4×10<tspan dy="-9.9" dx="0.6" font-size="18.5">5</tspan></text></g>
<line x1="125.0" y1="192.88" x2="137.5" y2="192.88" stroke="#000" stroke-width="2.7"/>
<line x1="131.0" y1="111.69" x2="137.5" y2="111.69" stroke="#000" stroke-width="2.7"/>
<g transform="translate(116 202.7) scale(0.98 1.06)"><text font-size="28" text-anchor="end">6×10<tspan dy="-9.9" dx="0.6" font-size="18.5">5</tspan></text></g>
<line x1="125.0" y1="30.50" x2="137.5" y2="30.50" stroke="#000" stroke-width="2.7"/>
<g transform="translate(116 41.2) scale(0.98 1.06)"><text font-size="28" text-anchor="end">8×10<tspan dy="-9.9" dx="0.6" font-size="18.5">5</tspan></text></g>
<line x1="137.50" y1="680" x2="137.50" y2="692.5" stroke="#000" stroke-width="2.7"/>
<line x1="204.08" y1="680" x2="204.08" y2="686.5" stroke="#000" stroke-width="2.7"/>
<g transform="translate(137.5 722.3) scale(0.98 1.06)"><text font-size="28" text-anchor="middle">0.000</text></g>
<line x1="270.67" y1="680" x2="270.67" y2="692.5" stroke="#000" stroke-width="2.7"/>
<line x1="337.25" y1="680" x2="337.25" y2="686.5" stroke="#000" stroke-width="2.7"/>
<g transform="translate(270.7 722.3) scale(0.98 1.06)"><text font-size="28" text-anchor="middle">0.005</text></g>
<line x1="403.83" y1="680" x2="403.83" y2="692.5" stroke="#000" stroke-width="2.7"/>
<line x1="470.42" y1="680" x2="470.42" y2="686.5" stroke="#000" stroke-width="2.7"/>
<g transform="translate(403.8 722.3) scale(0.98 1.06)"><text font-size="28" text-anchor="middle">0.010</text></g>
<line x1="537.00" y1="680" x2="537.00" y2="692.5" stroke="#000" stroke-width="2.7"/>
<line x1="603.58" y1="680" x2="603.58" y2="686.5" stroke="#000" stroke-width="2.7"/>
<g transform="translate(537.0 722.3) scale(0.98 1.06)"><text font-size="28" text-anchor="middle">0.015</text></g>
<line x1="670.17" y1="680" x2="670.17" y2="692.5" stroke="#000" stroke-width="2.7"/>
<line x1="736.75" y1="680" x2="736.75" y2="686.5" stroke="#000" stroke-width="2.7"/>
<g transform="translate(670.2 722.3) scale(0.98 1.06)"><text font-size="28" text-anchor="middle">0.020</text></g>
<line x1="803.33" y1="680" x2="803.33" y2="692.5" stroke="#000" stroke-width="2.7"/>
<line x1="869.92" y1="680" x2="869.92" y2="686.5" stroke="#000" stroke-width="2.7"/>
<g transform="translate(803.3 722.3) scale(0.98 1.06)"><text font-size="28" text-anchor="middle">0.025</text></g>
<line x1="936.50" y1="680" x2="936.50" y2="692.5" stroke="#000" stroke-width="2.7"/>
<g transform="translate(936.5 722.3) scale(0.98 1.06)"><text font-size="28" text-anchor="middle">0.030</text></g>
<text x="537.0" y="775.5" font-size="33.7" text-anchor="middle">Displacement (m)</text>
<text transform="translate(28.6 355.2) rotate(-90)" font-size="33.7" text-anchor="middle">Force (N)</text>
<text x="537" y="830.5" font-size="50" text-anchor="middle">(a)</text>
<g clip-path="url(#cb)">
<polyline points="1160.5,681 1381.3,98.5 1508.6,85.9 1539.4,172.7" fill="none" stroke="#006e08" stroke-width="3.4" stroke-linejoin="round"/>
<path d="M1153.9 669.5 L1173.8 681 L1153.9 692.5 Z" fill="#fff" stroke="#006e08" stroke-width="1.7" stroke-linejoin="miter"/><line x1="1147.7" y1="681.6" x2="1171.5" y2="681.6" stroke="#006e08" stroke-width="1.4"/><line x1="1160.9" y1="667" x2="1160.9" y2="693" stroke="#006e08" stroke-width="1.5"/>
</g>
<path d="M1374.7 87.0 L1394.6 98.5 L1374.7 110.0 Z" fill="#fff" stroke="#006e08" stroke-width="1.7" stroke-linejoin="miter"/><line x1="1368.5" y1="99.1" x2="1392.3" y2="99.1" stroke="#006e08" stroke-width="1.4"/><line x1="1381.7" y1="84.5" x2="1381.7" y2="110.5" stroke="#006e08" stroke-width="1.5"/>
<path d="M1502.0 74.4 L1521.8999999999999 85.9 L1502.0 97.4 Z" fill="#fff" stroke="#006e08" stroke-width="1.7" stroke-linejoin="miter"/><line x1="1495.8" y1="86.5" x2="1519.6" y2="86.5" stroke="#006e08" stroke-width="1.4"/><line x1="1509.0" y1="71.9" x2="1509.0" y2="97.9" stroke="#006e08" stroke-width="1.5"/>
<path d="M1532.8000000000002 161.2 L1552.7 172.7 L1532.8000000000002 184.2 Z" fill="#fff" stroke="#006e08" stroke-width="1.7" stroke-linejoin="miter"/><line x1="1526.6000000000001" y1="173.29999999999998" x2="1550.4" y2="173.29999999999998" stroke="#9a9aa2" stroke-width="1.0"/><line x1="1539.8000000000002" y1="158.7" x2="1539.8000000000002" y2="184.7" stroke="#006e08" stroke-width="1.5"/>
<line x1="1384.9" y1="474.2" x2="1383.2" y2="121.8" stroke="#000" stroke-width="2.8"/><path d="M1383.1 109.3 L1389.7 123.6 L1383.2 121.8 L1376.7 123.6 Z" fill="#000"/>
<line x1="1505.5" y1="327.9" x2="1501.7" y2="110.5" stroke="#000" stroke-width="2.8"/><path d="M1501.5 98.0 L1508.2 112.2 L1501.7 110.5 L1495.2 112.4 Z" fill="#000"/>
<line x1="1811.0" y1="327.4" x2="1555.4" y2="184.3" stroke="#000" stroke-width="2.8"/><path d="M1544.5 178.2 L1560.2 179.5 L1555.4 184.3 L1553.8 190.9 Z" fill="#000"/>
<path d="M1160.5 23.3 H1969.5 V681" fill="none" stroke="#000" stroke-width="2.7" stroke-linejoin="miter"/>
<path d="M1160.5 22.15 V681 H1970.6499999999999" fill="none" stroke="#000" stroke-width="2.7"/>
<line x1="1147.2" y1="681.00" x2="1160.5" y2="681.00" stroke="#000" stroke-width="2.7"/>
<line x1="1154.0" y1="634.02" x2="1160.5" y2="634.02" stroke="#000" stroke-width="2.7"/>
<g transform="translate(1139 689.4) scale(0.98 1.06)"><text font-size="28" text-anchor="end">0.0</text></g>
<line x1="1147.2" y1="587.04" x2="1160.5" y2="587.04" stroke="#000" stroke-width="2.7"/>
<line x1="1154.0" y1="540.06" x2="1160.5" y2="540.06" stroke="#000" stroke-width="2.7"/>
<g transform="translate(1139 596.8) scale(0.98 1.06)"><text font-size="28" text-anchor="end">2.0×10<tspan dy="-9.9" dx="0.6" font-size="18.5">5</tspan></text></g>
<line x1="1147.2" y1="493.09" x2="1160.5" y2="493.09" stroke="#000" stroke-width="2.7"/>
<line x1="1154.0" y1="446.11" x2="1160.5" y2="446.11" stroke="#000" stroke-width="2.7"/>
<g transform="translate(1139 502.9) scale(0.98 1.06)"><text font-size="28" text-anchor="end">4.0×10<tspan dy="-9.9" dx="0.6" font-size="18.5">5</tspan></text></g>
<line x1="1147.2" y1="399.13" x2="1160.5" y2="399.13" stroke="#000" stroke-width="2.7"/>
<line x1="1154.0" y1="352.15" x2="1160.5" y2="352.15" stroke="#000" stroke-width="2.7"/>
<g transform="translate(1139 408.9) scale(0.98 1.06)"><text font-size="28" text-anchor="end">6.0×10<tspan dy="-9.9" dx="0.6" font-size="18.5">5</tspan></text></g>
<line x1="1147.2" y1="305.17" x2="1160.5" y2="305.17" stroke="#000" stroke-width="2.7"/>
<line x1="1154.0" y1="258.19" x2="1160.5" y2="258.19" stroke="#000" stroke-width="2.7"/>
<g transform="translate(1139 315.0) scale(0.98 1.06)"><text font-size="28" text-anchor="end">8.0×10<tspan dy="-9.9" dx="0.6" font-size="18.5">5</tspan></text></g>
<line x1="1147.2" y1="211.21" x2="1160.5" y2="211.21" stroke="#000" stroke-width="2.7"/>
<line x1="1154.0" y1="164.24" x2="1160.5" y2="164.24" stroke="#000" stroke-width="2.7"/>
<g transform="translate(1139 221.0) scale(0.98 1.06)"><text font-size="28" text-anchor="end">1.0×10<tspan dy="-9.9" dx="0.6" font-size="18.5">6</tspan></text></g>
<line x1="1147.2" y1="117.26" x2="1160.5" y2="117.26" stroke="#000" stroke-width="2.7"/>
<line x1="1154.0" y1="70.28" x2="1160.5" y2="70.28" stroke="#000" stroke-width="2.7"/>
<g transform="translate(1139 127.1) scale(0.98 1.06)"><text font-size="28" text-anchor="end">1.2×10<tspan dy="-9.9" dx="0.6" font-size="18.5">6</tspan></text></g>
<line x1="1147.2" y1="23.30" x2="1160.5" y2="23.30" stroke="#000" stroke-width="2.7"/>
<g transform="translate(1139 36.7) scale(0.98 1.06)"><text font-size="28" text-anchor="end">1.4×10<tspan dy="-9.9" dx="0.6" font-size="18.5">6</tspan></text></g>
<line x1="1160.50" y1="681" x2="1160.50" y2="694.3" stroke="#000" stroke-width="2.7"/>
<line x1="1227.92" y1="681" x2="1227.92" y2="687.5" stroke="#000" stroke-width="2.7"/>
<g transform="translate(1160.5 725.7) scale(0.98 1.06)"><text font-size="28" text-anchor="middle">0.000</text></g>
<line x1="1295.33" y1="681" x2="1295.33" y2="694.3" stroke="#000" stroke-width="2.7"/>
<line x1="1362.75" y1="681" x2="1362.75" y2="687.5" stroke="#000" stroke-width="2.7"/>
<g transform="translate(1295.3 725.7) scale(0.98 1.06)"><text font-size="28" text-anchor="middle">0.005</text></g>
<line x1="1430.17" y1="681" x2="1430.17" y2="694.3" stroke="#000" stroke-width="2.7"/>
<line x1="1497.58" y1="681" x2="1497.58" y2="687.5" stroke="#000" stroke-width="2.7"/>
<g transform="translate(1430.2 725.7) scale(0.98 1.06)"><text font-size="28" text-anchor="middle">0.010</text></g>
<line x1="1565.00" y1="681" x2="1565.00" y2="694.3" stroke="#000" stroke-width="2.7"/>
<line x1="1632.42" y1="681" x2="1632.42" y2="687.5" stroke="#000" stroke-width="2.7"/>
<g transform="translate(1565.0 725.7) scale(0.98 1.06)"><text font-size="28" text-anchor="middle">0.015</text></g>
<line x1="1699.83" y1="681" x2="1699.83" y2="694.3" stroke="#000" stroke-width="2.7"/>
<line x1="1767.25" y1="681" x2="1767.25" y2="687.5" stroke="#000" stroke-width="2.7"/>
<g transform="translate(1699.8 725.7) scale(0.98 1.06)"><text font-size="28" text-anchor="middle">0.020</text></g>
<line x1="1834.67" y1="681" x2="1834.67" y2="694.3" stroke="#000" stroke-width="2.7"/>
<line x1="1902.08" y1="681" x2="1902.08" y2="687.5" stroke="#000" stroke-width="2.7"/>
<g transform="translate(1834.7 725.7) scale(0.98 1.06)"><text font-size="28" text-anchor="middle">0.025</text></g>
<line x1="1969.50" y1="681" x2="1969.50" y2="694.3" stroke="#000" stroke-width="2.7"/>
<g transform="translate(1968.5 725.7) scale(0.98 1.06)"><text font-size="28" text-anchor="middle">0.030</text></g>
<text x="1565.0" y="775.5" font-size="34" text-anchor="middle">Displacement (m)</text>
<text transform="translate(1029 352.1) rotate(-90)" font-size="34" text-anchor="middle">Force (N)</text>
<text x="1565" y="830.5" font-size="50" text-anchor="middle">(b)</text>
<g clip-path="url(#cc)">
<polyline points="691.4,1519 899.7,970.2 1031.4,961.0 1085.5,974.4" fill="none" stroke="#9c0c12" stroke-width="3.0" stroke-linejoin="round"/>
<path d="M679.9 1519 L691.4 1507.5 L702.9 1519 L691.4 1530.5 Z" fill="#fff" stroke="#9c0c12" stroke-width="1.8"/><line x1="679.9" y1="1519" x2="702.9" y2="1519" stroke="#9c0c12" stroke-width="1.4"/><line x1="691.4" y1="1507.5" x2="691.4" y2="1530.5" stroke="#9c0c12" stroke-width="1.4"/>
</g>
<path d="M888.2 970.2 L899.7 958.7 L911.2 970.2 L899.7 981.7 Z" fill="#fff" stroke="#9c0c12" stroke-width="1.8"/><line x1="888.2" y1="970.2" x2="911.2" y2="970.2" stroke="#9c0c12" stroke-width="1.4"/><line x1="899.7" y1="958.7" x2="899.7" y2="981.7" stroke="#9c0c12" stroke-width="1.4"/>
<path d="M1019.9000000000001 961.0 L1031.4 949.5 L1042.9 961.0 L1031.4 972.5 Z" fill="#fff" stroke="#9c0c12" stroke-width="1.8"/><line x1="1019.9000000000001" y1="961.0" x2="1042.9" y2="961.0" stroke="#9c0c12" stroke-width="1.4"/><line x1="1031.4" y1="949.5" x2="1031.4" y2="972.5" stroke="#9c0c12" stroke-width="1.4"/>
<path d="M1074.0 974.4 L1085.5 962.9 L1097.0 974.4 L1085.5 985.9 Z" fill="#fff" stroke="#9c0c12" stroke-width="1.8"/><line x1="1074.0" y1="974.4" x2="1097.0" y2="974.4" stroke="#8e8e96" stroke-width="1.0"/><line x1="1085.5" y1="962.9" x2="1085.5" y2="985.9" stroke="#9c0c12" stroke-width="1.4"/>
<line x1="905.8" y1="1315.6" x2="900.8" y2="995.4" stroke="#000" stroke-width="2.8"/><path d="M900.6 982.9 L907.3 997.1 L900.8 995.4 L894.3 997.3 Z" fill="#000"/>
<line x1="1044.5" y1="1169.6" x2="1032.1" y2="986.7" stroke="#000" stroke-width="2.8"/><path d="M1031.3 974.2 L1038.7 988.0 L1032.1 986.7 L1025.8 988.9 Z" fill="#000"/>
<line x1="1304.8" y1="1164.9" x2="1097.5" y2="994.3" stroke="#000" stroke-width="2.8"/><path d="M1087.8 986.4 L1103.0 990.5 L1097.5 994.3 L1094.7 1000.5 Z" fill="#000"/>
<path d="M691.4 909.3 H1441.4 V1519" fill="none" stroke="#000" stroke-width="2.6" stroke-linejoin="miter"/>
<path d="M691.4 908.25 V1519 H1442.45" fill="none" stroke="#000" stroke-width="2.5"/>
<line x1="678.9" y1="1519.00" x2="691.4" y2="1519.00" stroke="#000" stroke-width="2.5"/>
<line x1="684.9" y1="1468.19" x2="691.4" y2="1468.19" stroke="#000" stroke-width="2.5"/>
<g transform="translate(671.2 1527.0) scale(0.98 1.06)"><text font-size="25.6" text-anchor="end">0.0</text></g>
<line x1="678.9" y1="1417.38" x2="691.4" y2="1417.38" stroke="#000" stroke-width="2.5"/>
<line x1="684.9" y1="1366.57" x2="691.4" y2="1366.57" stroke="#000" stroke-width="2.5"/>
<g transform="translate(671.2 1426.7) scale(0.98 1.06)"><text font-size="25.6" text-anchor="end">2.0×10<tspan dy="-9.1" dx="0.6" font-size="16.9">5</tspan></text></g>
<line x1="678.9" y1="1315.77" x2="691.4" y2="1315.77" stroke="#000" stroke-width="2.5"/>
<line x1="684.9" y1="1264.96" x2="691.4" y2="1264.96" stroke="#000" stroke-width="2.5"/>
<g transform="translate(671.2 1325.1) scale(0.98 1.06)"><text font-size="25.6" text-anchor="end">4.0×10<tspan dy="-9.1" dx="0.6" font-size="16.9">5</tspan></text></g>
<line x1="678.9" y1="1214.15" x2="691.4" y2="1214.15" stroke="#000" stroke-width="2.5"/>
<line x1="684.9" y1="1163.34" x2="691.4" y2="1163.34" stroke="#000" stroke-width="2.5"/>
<g transform="translate(671.2 1223.5) scale(0.98 1.06)"><text font-size="25.6" text-anchor="end">6.0×10<tspan dy="-9.1" dx="0.6" font-size="16.9">5</tspan></text></g>
<line x1="678.9" y1="1112.53" x2="691.4" y2="1112.53" stroke="#000" stroke-width="2.5"/>
<line x1="684.9" y1="1061.72" x2="691.4" y2="1061.72" stroke="#000" stroke-width="2.5"/>
<g transform="translate(671.2 1121.8) scale(0.98 1.06)"><text font-size="25.6" text-anchor="end">8.0×10<tspan dy="-9.1" dx="0.6" font-size="16.9">5</tspan></text></g>
<line x1="678.9" y1="1010.92" x2="691.4" y2="1010.92" stroke="#000" stroke-width="2.5"/>
<line x1="684.9" y1="960.11" x2="691.4" y2="960.11" stroke="#000" stroke-width="2.5"/>
<g transform="translate(671.2 1020.2) scale(0.98 1.06)"><text font-size="25.6" text-anchor="end">1.0×10<tspan dy="-9.1" dx="0.6" font-size="16.9">6</tspan></text></g>
<line x1="678.9" y1="909.30" x2="691.4" y2="909.30" stroke="#000" stroke-width="2.5"/>
<g transform="translate(671.2 918.6) scale(0.98 1.06)"><text font-size="25.6" text-anchor="end">1.2×10<tspan dy="-9.1" dx="0.6" font-size="16.9">6</tspan></text></g>
<line x1="691.40" y1="1519" x2="691.40" y2="1531.5" stroke="#000" stroke-width="2.5"/>
<line x1="753.90" y1="1519" x2="753.90" y2="1525.5" stroke="#000" stroke-width="2.5"/>
<g transform="translate(691.4 1558.8) scale(0.98 1.06)"><text font-size="25.6" text-anchor="middle">0.000</text></g>
<line x1="816.40" y1="1519" x2="816.40" y2="1531.5" stroke="#000" stroke-width="2.5"/>
<line x1="878.90" y1="1519" x2="878.90" y2="1525.5" stroke="#000" stroke-width="2.5"/>
<g transform="translate(816.4 1558.8) scale(0.98 1.06)"><text font-size="25.6" text-anchor="middle">0.005</text></g>
<line x1="941.40" y1="1519" x2="941.40" y2="1531.5" stroke="#000" stroke-width="2.5"/>
<line x1="1003.90" y1="1519" x2="1003.90" y2="1525.5" stroke="#000" stroke-width="2.5"/>
<g transform="translate(941.4 1558.8) scale(0.98 1.06)"><text font-size="25.6" text-anchor="middle">0.010</text></g>
<line x1="1066.40" y1="1519" x2="1066.40" y2="1531.5" stroke="#000" stroke-width="2.5"/>
<line x1="1128.90" y1="1519" x2="1128.90" y2="1525.5" stroke="#000" stroke-width="2.5"/>
<g transform="translate(1066.4 1558.8) scale(0.98 1.06)"><text font-size="25.6" text-anchor="middle">0.015</text></g>
<line x1="1191.40" y1="1519" x2="1191.40" y2="1531.5" stroke="#000" stroke-width="2.5"/>
<line x1="1253.90" y1="1519" x2="1253.90" y2="1525.5" stroke="#000" stroke-width="2.5"/>
<g transform="translate(1191.4 1558.8) scale(0.98 1.06)"><text font-size="25.6" text-anchor="middle">0.020</text></g>
<line x1="1316.40" y1="1519" x2="1316.40" y2="1531.5" stroke="#000" stroke-width="2.5"/>
<line x1="1378.90" y1="1519" x2="1378.90" y2="1525.5" stroke="#000" stroke-width="2.5"/>
<g transform="translate(1316.4 1558.8) scale(0.98 1.06)"><text font-size="25.6" text-anchor="middle">0.025</text></g>
<line x1="1441.40" y1="1519" x2="1441.40" y2="1531.5" stroke="#000" stroke-width="2.5"/>
<g transform="translate(1435.4 1558.8) scale(0.98 1.06)"><text font-size="25.6" text-anchor="middle">0.03</text></g>
<text x="1066.4" y="1603" font-size="31.7" text-anchor="middle">Displacement (m)</text>
<text transform="translate(570 1214.2) rotate(-90)" font-size="31.7" text-anchor="middle">Force (N)</text>
<text x="1059" y="1661.2" font-size="50" text-anchor="middle">(c)</text>
</svg>
</body></html>
